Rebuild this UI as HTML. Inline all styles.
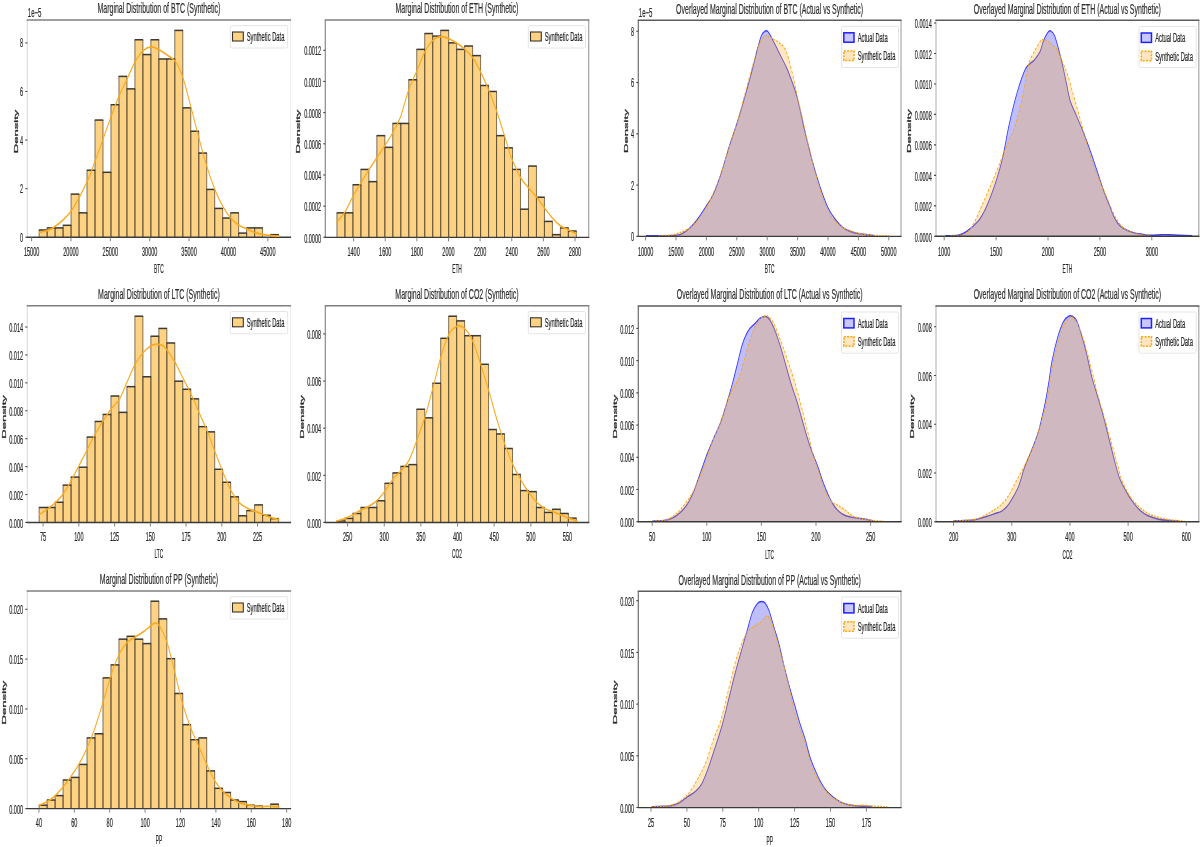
<!DOCTYPE html>
<html><head><meta charset="utf-8"><style>
html,body{margin:0;padding:0;background:#fff;}
svg{display:block;}
text{font-family:"Liberation Sans", sans-serif;}
svg{filter:blur(0.3px);}
text{stroke:#262626;stroke-width:0.2px;}
</style></head><body>
<svg width="1200" height="847" viewBox="0 0 1200 847">
<defs><filter id="tb" x="-5%" y="-5%" width="110%" height="110%"><feGaussianBlur stdDeviation="0.32"/></filter></defs>
<rect width="1200" height="847" fill="#ffffff"/>
<line x1="27.3" y1="20" x2="27.3" y2="237.3" stroke="#dedede" stroke-width="1.2"/>
<line x1="290.5" y1="20" x2="290.5" y2="237.3" stroke="#efefef" stroke-width="1.2"/>
<line x1="26.7" y1="20" x2="291.1" y2="20" stroke="#7f7f7f" stroke-width="1.5"/>
<rect x="39.15" y="229.98" width="7.98" height="7.32" fill="#fdd283"/>
<rect x="47.13" y="227.90" width="7.98" height="9.40" fill="#fdd283"/>
<rect x="55.11" y="227.90" width="7.98" height="9.40" fill="#fdd283"/>
<rect x="63.09" y="225.30" width="7.98" height="12.00" fill="#fdd283"/>
<rect x="71.07" y="194.12" width="7.98" height="43.18" fill="#fdd283"/>
<rect x="79.05" y="212.83" width="7.98" height="24.47" fill="#fdd283"/>
<rect x="87.03" y="170.21" width="7.98" height="67.09" fill="#fdd283"/>
<rect x="95.01" y="120.05" width="7.98" height="117.25" fill="#fdd283"/>
<rect x="102.99" y="172.29" width="7.98" height="65.01" fill="#fdd283"/>
<rect x="110.97" y="104.72" width="7.98" height="132.58" fill="#fdd283"/>
<rect x="118.95" y="76.39" width="7.98" height="160.91" fill="#fdd283"/>
<rect x="126.93" y="88.87" width="7.98" height="148.43" fill="#fdd283"/>
<rect x="134.91" y="39.75" width="7.98" height="197.55" fill="#fdd283"/>
<rect x="142.89" y="54.56" width="7.98" height="182.74" fill="#fdd283"/>
<rect x="150.87" y="39.75" width="7.98" height="197.55" fill="#fdd283"/>
<rect x="158.85" y="58.98" width="7.98" height="178.32" fill="#fdd283"/>
<rect x="166.83" y="58.98" width="7.98" height="178.32" fill="#fdd283"/>
<rect x="174.81" y="30.40" width="7.98" height="206.90" fill="#fdd283"/>
<rect x="182.79" y="107.84" width="7.98" height="129.46" fill="#fdd283"/>
<rect x="190.77" y="131.23" width="7.98" height="106.07" fill="#fdd283"/>
<rect x="198.75" y="153.06" width="7.98" height="84.24" fill="#fdd283"/>
<rect x="206.73" y="189.44" width="7.98" height="47.86" fill="#fdd283"/>
<rect x="214.71" y="208.41" width="7.98" height="28.89" fill="#fdd283"/>
<rect x="222.69" y="218.02" width="7.98" height="19.28" fill="#fdd283"/>
<rect x="230.67" y="212.83" width="7.98" height="24.47" fill="#fdd283"/>
<rect x="238.65" y="233.10" width="7.98" height="4.20" fill="#fdd283"/>
<rect x="246.63" y="227.90" width="7.98" height="9.40" fill="#fdd283"/>
<rect x="254.61" y="227.90" width="7.98" height="9.40" fill="#fdd283"/>
<rect x="270.57" y="234.66" width="7.98" height="2.64" fill="#fdd283"/>
<line x1="39.15" y1="229.98" x2="39.15" y2="237.30" stroke="#5a4a30" stroke-width="0.9" stroke-opacity="0.85"/>
<line x1="47.13" y1="229.98" x2="47.13" y2="237.30" stroke="#5a4a30" stroke-width="0.9" stroke-opacity="0.85"/>
<line x1="47.13" y1="227.90" x2="47.13" y2="237.30" stroke="#5a4a30" stroke-width="0.9" stroke-opacity="0.85"/>
<line x1="55.11" y1="227.90" x2="55.11" y2="237.30" stroke="#5a4a30" stroke-width="0.9" stroke-opacity="0.85"/>
<line x1="55.11" y1="227.90" x2="55.11" y2="237.30" stroke="#5a4a30" stroke-width="0.9" stroke-opacity="0.85"/>
<line x1="63.09" y1="227.90" x2="63.09" y2="237.30" stroke="#5a4a30" stroke-width="0.9" stroke-opacity="0.85"/>
<line x1="63.09" y1="225.30" x2="63.09" y2="237.30" stroke="#5a4a30" stroke-width="0.9" stroke-opacity="0.85"/>
<line x1="71.07" y1="225.30" x2="71.07" y2="237.30" stroke="#5a4a30" stroke-width="0.9" stroke-opacity="0.85"/>
<line x1="71.07" y1="194.12" x2="71.07" y2="237.30" stroke="#5a4a30" stroke-width="0.9" stroke-opacity="0.85"/>
<line x1="79.05" y1="194.12" x2="79.05" y2="237.30" stroke="#5a4a30" stroke-width="0.9" stroke-opacity="0.85"/>
<line x1="79.05" y1="212.83" x2="79.05" y2="237.30" stroke="#5a4a30" stroke-width="0.9" stroke-opacity="0.85"/>
<line x1="87.03" y1="212.83" x2="87.03" y2="237.30" stroke="#5a4a30" stroke-width="0.9" stroke-opacity="0.85"/>
<line x1="87.03" y1="170.21" x2="87.03" y2="237.30" stroke="#5a4a30" stroke-width="0.9" stroke-opacity="0.85"/>
<line x1="95.01" y1="170.21" x2="95.01" y2="237.30" stroke="#5a4a30" stroke-width="0.9" stroke-opacity="0.85"/>
<line x1="95.01" y1="120.05" x2="95.01" y2="237.30" stroke="#5a4a30" stroke-width="0.9" stroke-opacity="0.85"/>
<line x1="102.99" y1="120.05" x2="102.99" y2="237.30" stroke="#5a4a30" stroke-width="0.9" stroke-opacity="0.85"/>
<line x1="102.99" y1="172.29" x2="102.99" y2="237.30" stroke="#5a4a30" stroke-width="0.9" stroke-opacity="0.85"/>
<line x1="110.97" y1="172.29" x2="110.97" y2="237.30" stroke="#5a4a30" stroke-width="0.9" stroke-opacity="0.85"/>
<line x1="110.97" y1="104.72" x2="110.97" y2="237.30" stroke="#5a4a30" stroke-width="0.9" stroke-opacity="0.85"/>
<line x1="118.95" y1="104.72" x2="118.95" y2="237.30" stroke="#5a4a30" stroke-width="0.9" stroke-opacity="0.85"/>
<line x1="118.95" y1="76.39" x2="118.95" y2="237.30" stroke="#5a4a30" stroke-width="0.9" stroke-opacity="0.85"/>
<line x1="126.93" y1="76.39" x2="126.93" y2="237.30" stroke="#5a4a30" stroke-width="0.9" stroke-opacity="0.85"/>
<line x1="126.93" y1="88.87" x2="126.93" y2="237.30" stroke="#5a4a30" stroke-width="0.9" stroke-opacity="0.85"/>
<line x1="134.91" y1="88.87" x2="134.91" y2="237.30" stroke="#5a4a30" stroke-width="0.9" stroke-opacity="0.85"/>
<line x1="134.91" y1="39.75" x2="134.91" y2="237.30" stroke="#5a4a30" stroke-width="0.9" stroke-opacity="0.85"/>
<line x1="142.89" y1="39.75" x2="142.89" y2="237.30" stroke="#5a4a30" stroke-width="0.9" stroke-opacity="0.85"/>
<line x1="142.89" y1="54.56" x2="142.89" y2="237.30" stroke="#5a4a30" stroke-width="0.9" stroke-opacity="0.85"/>
<line x1="150.87" y1="54.56" x2="150.87" y2="237.30" stroke="#5a4a30" stroke-width="0.9" stroke-opacity="0.85"/>
<line x1="150.87" y1="39.75" x2="150.87" y2="237.30" stroke="#5a4a30" stroke-width="0.9" stroke-opacity="0.85"/>
<line x1="158.85" y1="39.75" x2="158.85" y2="237.30" stroke="#5a4a30" stroke-width="0.9" stroke-opacity="0.85"/>
<line x1="158.85" y1="58.98" x2="158.85" y2="237.30" stroke="#5a4a30" stroke-width="0.9" stroke-opacity="0.85"/>
<line x1="166.83" y1="58.98" x2="166.83" y2="237.30" stroke="#5a4a30" stroke-width="0.9" stroke-opacity="0.85"/>
<line x1="166.83" y1="58.98" x2="166.83" y2="237.30" stroke="#5a4a30" stroke-width="0.9" stroke-opacity="0.85"/>
<line x1="174.81" y1="58.98" x2="174.81" y2="237.30" stroke="#5a4a30" stroke-width="0.9" stroke-opacity="0.85"/>
<line x1="174.81" y1="30.40" x2="174.81" y2="237.30" stroke="#5a4a30" stroke-width="0.9" stroke-opacity="0.85"/>
<line x1="182.79" y1="30.40" x2="182.79" y2="237.30" stroke="#5a4a30" stroke-width="0.9" stroke-opacity="0.85"/>
<line x1="182.79" y1="107.84" x2="182.79" y2="237.30" stroke="#5a4a30" stroke-width="0.9" stroke-opacity="0.85"/>
<line x1="190.77" y1="107.84" x2="190.77" y2="237.30" stroke="#5a4a30" stroke-width="0.9" stroke-opacity="0.85"/>
<line x1="190.77" y1="131.23" x2="190.77" y2="237.30" stroke="#5a4a30" stroke-width="0.9" stroke-opacity="0.85"/>
<line x1="198.75" y1="131.23" x2="198.75" y2="237.30" stroke="#5a4a30" stroke-width="0.9" stroke-opacity="0.85"/>
<line x1="198.75" y1="153.06" x2="198.75" y2="237.30" stroke="#5a4a30" stroke-width="0.9" stroke-opacity="0.85"/>
<line x1="206.73" y1="153.06" x2="206.73" y2="237.30" stroke="#5a4a30" stroke-width="0.9" stroke-opacity="0.85"/>
<line x1="206.73" y1="189.44" x2="206.73" y2="237.30" stroke="#5a4a30" stroke-width="0.9" stroke-opacity="0.85"/>
<line x1="214.71" y1="189.44" x2="214.71" y2="237.30" stroke="#5a4a30" stroke-width="0.9" stroke-opacity="0.85"/>
<line x1="214.71" y1="208.41" x2="214.71" y2="237.30" stroke="#5a4a30" stroke-width="0.9" stroke-opacity="0.85"/>
<line x1="222.69" y1="208.41" x2="222.69" y2="237.30" stroke="#5a4a30" stroke-width="0.9" stroke-opacity="0.85"/>
<line x1="222.69" y1="218.02" x2="222.69" y2="237.30" stroke="#5a4a30" stroke-width="0.9" stroke-opacity="0.85"/>
<line x1="230.67" y1="218.02" x2="230.67" y2="237.30" stroke="#5a4a30" stroke-width="0.9" stroke-opacity="0.85"/>
<line x1="230.67" y1="212.83" x2="230.67" y2="237.30" stroke="#5a4a30" stroke-width="0.9" stroke-opacity="0.85"/>
<line x1="238.65" y1="212.83" x2="238.65" y2="237.30" stroke="#5a4a30" stroke-width="0.9" stroke-opacity="0.85"/>
<line x1="238.65" y1="233.10" x2="238.65" y2="237.30" stroke="#5a4a30" stroke-width="0.9" stroke-opacity="0.85"/>
<line x1="246.63" y1="233.10" x2="246.63" y2="237.30" stroke="#5a4a30" stroke-width="0.9" stroke-opacity="0.85"/>
<line x1="246.63" y1="227.90" x2="246.63" y2="237.30" stroke="#5a4a30" stroke-width="0.9" stroke-opacity="0.85"/>
<line x1="254.61" y1="227.90" x2="254.61" y2="237.30" stroke="#5a4a30" stroke-width="0.9" stroke-opacity="0.85"/>
<line x1="254.61" y1="227.90" x2="254.61" y2="237.30" stroke="#5a4a30" stroke-width="0.9" stroke-opacity="0.85"/>
<line x1="262.59" y1="227.90" x2="262.59" y2="237.30" stroke="#5a4a30" stroke-width="0.9" stroke-opacity="0.85"/>
<line x1="270.57" y1="234.66" x2="270.57" y2="237.30" stroke="#5a4a30" stroke-width="0.9" stroke-opacity="0.85"/>
<line x1="278.55" y1="234.66" x2="278.55" y2="237.30" stroke="#5a4a30" stroke-width="0.9" stroke-opacity="0.85"/>
<line x1="38.85" y1="229.98" x2="47.43" y2="229.98" stroke="#3c3833" stroke-width="1.5"/>
<line x1="46.83" y1="227.90" x2="55.41" y2="227.90" stroke="#3c3833" stroke-width="1.5"/>
<line x1="54.81" y1="227.90" x2="63.39" y2="227.90" stroke="#3c3833" stroke-width="1.5"/>
<line x1="62.79" y1="225.30" x2="71.37" y2="225.30" stroke="#3c3833" stroke-width="1.5"/>
<line x1="70.77" y1="194.12" x2="79.35" y2="194.12" stroke="#3c3833" stroke-width="1.5"/>
<line x1="78.75" y1="212.83" x2="87.33" y2="212.83" stroke="#3c3833" stroke-width="1.5"/>
<line x1="86.73" y1="170.21" x2="95.31" y2="170.21" stroke="#3c3833" stroke-width="1.5"/>
<line x1="94.71" y1="120.05" x2="103.29" y2="120.05" stroke="#3c3833" stroke-width="1.5"/>
<line x1="102.69" y1="172.29" x2="111.27" y2="172.29" stroke="#3c3833" stroke-width="1.5"/>
<line x1="110.67" y1="104.72" x2="119.25" y2="104.72" stroke="#3c3833" stroke-width="1.5"/>
<line x1="118.65" y1="76.39" x2="127.23" y2="76.39" stroke="#3c3833" stroke-width="1.5"/>
<line x1="126.63" y1="88.87" x2="135.21" y2="88.87" stroke="#3c3833" stroke-width="1.5"/>
<line x1="134.61" y1="39.75" x2="143.19" y2="39.75" stroke="#3c3833" stroke-width="1.5"/>
<line x1="142.59" y1="54.56" x2="151.17" y2="54.56" stroke="#3c3833" stroke-width="1.5"/>
<line x1="150.57" y1="39.75" x2="159.15" y2="39.75" stroke="#3c3833" stroke-width="1.5"/>
<line x1="158.55" y1="58.98" x2="167.13" y2="58.98" stroke="#3c3833" stroke-width="1.5"/>
<line x1="166.53" y1="58.98" x2="175.11" y2="58.98" stroke="#3c3833" stroke-width="1.5"/>
<line x1="174.51" y1="30.40" x2="183.09" y2="30.40" stroke="#3c3833" stroke-width="1.5"/>
<line x1="182.49" y1="107.84" x2="191.07" y2="107.84" stroke="#3c3833" stroke-width="1.5"/>
<line x1="190.47" y1="131.23" x2="199.05" y2="131.23" stroke="#3c3833" stroke-width="1.5"/>
<line x1="198.45" y1="153.06" x2="207.03" y2="153.06" stroke="#3c3833" stroke-width="1.5"/>
<line x1="206.43" y1="189.44" x2="215.01" y2="189.44" stroke="#3c3833" stroke-width="1.5"/>
<line x1="214.41" y1="208.41" x2="222.99" y2="208.41" stroke="#3c3833" stroke-width="1.5"/>
<line x1="222.39" y1="218.02" x2="230.97" y2="218.02" stroke="#3c3833" stroke-width="1.5"/>
<line x1="230.37" y1="212.83" x2="238.95" y2="212.83" stroke="#3c3833" stroke-width="1.5"/>
<line x1="238.35" y1="233.10" x2="246.93" y2="233.10" stroke="#3c3833" stroke-width="1.5"/>
<line x1="246.33" y1="227.90" x2="254.91" y2="227.90" stroke="#3c3833" stroke-width="1.5"/>
<line x1="254.31" y1="227.90" x2="262.89" y2="227.90" stroke="#3c3833" stroke-width="1.5"/>
<line x1="270.27" y1="234.66" x2="278.85" y2="234.66" stroke="#3c3833" stroke-width="1.5"/>
<line x1="26.7" y1="237.3" x2="291.1" y2="237.3" stroke="#3a3a3a" stroke-width="1.4"/>
<g transform="translate(600.0,0) scale(0.55,1) translate(-600.0,0)"><path d="M-419.61,232.58 C-415.44,231.80 -404.25,231.50 -394.57,227.90 C-384.88,224.31 -371.89,218.80 -361.49,211.01 C-351.10,203.21 -339.52,189.57 -332.20,181.12 C-324.87,172.68 -322.43,167.48 -317.55,160.33 C-312.67,153.19 -307.71,145.61 -302.90,138.24 C-298.10,130.88 -293.53,123.30 -288.73,116.15 C-283.92,109.01 -278.96,101.64 -274.08,95.36 C-269.20,89.08 -264.24,84.10 -259.43,78.47 C-254.63,72.84 -250.06,66.21 -245.26,61.58 C-240.45,56.95 -235.49,53.13 -230.61,50.67 C-225.73,48.20 -220.85,46.90 -215.96,46.77 C-211.08,46.64 -206.20,48.50 -201.32,49.89 C-196.43,51.27 -191.55,53.13 -186.67,55.08 C-181.79,57.03 -176.82,57.68 -172.02,61.58 C-167.22,65.48 -162.65,70.68 -157.85,78.47 C-153.04,86.27 -148.08,98.18 -143.20,108.36 C-138.32,118.54 -133.43,129.58 -128.55,139.54 C-123.67,149.50 -118.71,159.68 -113.90,168.13 C-109.10,176.57 -104.53,183.72 -99.73,190.22 C-94.92,196.72 -89.96,202.35 -85.08,207.11 C-80.20,211.87 -75.32,215.77 -70.43,218.80 C-65.55,221.84 -60.59,223.57 -55.79,225.30 C-50.98,227.03 -46.41,227.99 -41.61,229.20 C-36.81,230.41 -31.85,231.67 -26.96,232.58 C-22.08,233.49 -17.20,234.14 -12.32,234.66 C-7.43,235.18 -2.47,235.44 2.33,235.70 C7.14,235.96 14.14,236.13 16.51,236.22" fill="none" stroke="#fbaa1c" stroke-width="1.75" stroke-linejoin="round" stroke-linecap="round"/></g>
<rect x="230.3" y="25.7" width="57.39999999999998" height="22.3" rx="1.5" fill="#ffffff" fill-opacity="0.8" stroke="#e2e2e2" stroke-width="0.9"/>
<rect x="232.5" y="32.0" width="10.8" height="9" fill="#fdd283" stroke="#3a3328" stroke-width="1.1"/>
<line x1="25.3" y1="237.25" x2="27.3" y2="237.25" stroke="#444" stroke-width="1.1"/>
<line x1="25.3" y1="188.66" x2="27.3" y2="188.66" stroke="#444" stroke-width="1.1"/>
<line x1="25.3" y1="140.07" x2="27.3" y2="140.07" stroke="#444" stroke-width="1.1"/>
<line x1="25.3" y1="91.48" x2="27.3" y2="91.48" stroke="#444" stroke-width="1.1"/>
<line x1="25.3" y1="42.89" x2="27.3" y2="42.89" stroke="#444" stroke-width="1.1"/>
<line x1="31.60" y1="237.3" x2="31.60" y2="241.3" stroke="#777" stroke-width="0.9"/>
<line x1="70.97" y1="237.3" x2="70.97" y2="241.3" stroke="#777" stroke-width="0.9"/>
<line x1="110.34" y1="237.3" x2="110.34" y2="241.3" stroke="#777" stroke-width="0.9"/>
<line x1="149.71" y1="237.3" x2="149.71" y2="241.3" stroke="#777" stroke-width="0.9"/>
<line x1="189.08" y1="237.3" x2="189.08" y2="241.3" stroke="#777" stroke-width="0.9"/>
<line x1="228.45" y1="237.3" x2="228.45" y2="241.3" stroke="#777" stroke-width="0.9"/>
<line x1="267.82" y1="237.3" x2="267.82" y2="241.3" stroke="#777" stroke-width="0.9"/>
<line x1="325.3" y1="20" x2="325.3" y2="237.4" stroke="#8a8a8a" stroke-width="1.2"/>
<line x1="588.7" y1="20" x2="588.7" y2="237.4" stroke="#a0a0a0" stroke-width="1.2"/>
<line x1="324.7" y1="20" x2="589.3000000000001" y2="20" stroke="#7f7f7f" stroke-width="1.5"/>
<rect x="336.95" y="212.83" width="7.98" height="24.57" fill="#fdd283"/>
<rect x="344.93" y="212.83" width="7.98" height="24.57" fill="#fdd283"/>
<rect x="352.91" y="184.76" width="7.98" height="52.64" fill="#fdd283"/>
<rect x="360.89" y="169.43" width="7.98" height="67.97" fill="#fdd283"/>
<rect x="368.87" y="181.64" width="7.98" height="55.76" fill="#fdd283"/>
<rect x="376.85" y="135.64" width="7.98" height="101.76" fill="#fdd283"/>
<rect x="384.83" y="147.34" width="7.98" height="90.06" fill="#fdd283"/>
<rect x="392.81" y="123.43" width="7.98" height="113.97" fill="#fdd283"/>
<rect x="400.79" y="123.43" width="7.98" height="113.97" fill="#fdd283"/>
<rect x="408.77" y="79.77" width="7.98" height="157.63" fill="#fdd283"/>
<rect x="416.75" y="49.37" width="7.98" height="188.03" fill="#fdd283"/>
<rect x="424.73" y="33.51" width="7.98" height="203.89" fill="#fdd283"/>
<rect x="432.71" y="36.11" width="7.98" height="201.29" fill="#fdd283"/>
<rect x="440.69" y="30.40" width="7.98" height="207.00" fill="#fdd283"/>
<rect x="448.67" y="42.87" width="7.98" height="194.53" fill="#fdd283"/>
<rect x="456.65" y="49.37" width="7.98" height="188.03" fill="#fdd283"/>
<rect x="464.63" y="45.99" width="7.98" height="191.41" fill="#fdd283"/>
<rect x="472.61" y="55.60" width="7.98" height="181.80" fill="#fdd283"/>
<rect x="480.59" y="85.49" width="7.98" height="151.91" fill="#fdd283"/>
<rect x="488.57" y="91.47" width="7.98" height="145.93" fill="#fdd283"/>
<rect x="496.55" y="135.64" width="7.98" height="101.76" fill="#fdd283"/>
<rect x="504.53" y="147.86" width="7.98" height="89.54" fill="#fdd283"/>
<rect x="512.51" y="169.43" width="7.98" height="67.97" fill="#fdd283"/>
<rect x="520.49" y="209.19" width="7.98" height="28.21" fill="#fdd283"/>
<rect x="528.47" y="166.05" width="7.98" height="71.35" fill="#fdd283"/>
<rect x="536.45" y="197.23" width="7.98" height="40.17" fill="#fdd283"/>
<rect x="544.43" y="221.40" width="7.98" height="16.00" fill="#fdd283"/>
<rect x="552.41" y="234.66" width="7.98" height="2.74" fill="#fdd283"/>
<rect x="560.39" y="227.90" width="7.98" height="9.50" fill="#fdd283"/>
<rect x="568.37" y="231.02" width="7.98" height="6.38" fill="#fdd283"/>
<line x1="336.95" y1="212.83" x2="336.95" y2="237.40" stroke="#5a4a30" stroke-width="0.9" stroke-opacity="0.85"/>
<line x1="344.93" y1="212.83" x2="344.93" y2="237.40" stroke="#5a4a30" stroke-width="0.9" stroke-opacity="0.85"/>
<line x1="344.93" y1="212.83" x2="344.93" y2="237.40" stroke="#5a4a30" stroke-width="0.9" stroke-opacity="0.85"/>
<line x1="352.91" y1="212.83" x2="352.91" y2="237.40" stroke="#5a4a30" stroke-width="0.9" stroke-opacity="0.85"/>
<line x1="352.91" y1="184.76" x2="352.91" y2="237.40" stroke="#5a4a30" stroke-width="0.9" stroke-opacity="0.85"/>
<line x1="360.89" y1="184.76" x2="360.89" y2="237.40" stroke="#5a4a30" stroke-width="0.9" stroke-opacity="0.85"/>
<line x1="360.89" y1="169.43" x2="360.89" y2="237.40" stroke="#5a4a30" stroke-width="0.9" stroke-opacity="0.85"/>
<line x1="368.87" y1="169.43" x2="368.87" y2="237.40" stroke="#5a4a30" stroke-width="0.9" stroke-opacity="0.85"/>
<line x1="368.87" y1="181.64" x2="368.87" y2="237.40" stroke="#5a4a30" stroke-width="0.9" stroke-opacity="0.85"/>
<line x1="376.85" y1="181.64" x2="376.85" y2="237.40" stroke="#5a4a30" stroke-width="0.9" stroke-opacity="0.85"/>
<line x1="376.85" y1="135.64" x2="376.85" y2="237.40" stroke="#5a4a30" stroke-width="0.9" stroke-opacity="0.85"/>
<line x1="384.83" y1="135.64" x2="384.83" y2="237.40" stroke="#5a4a30" stroke-width="0.9" stroke-opacity="0.85"/>
<line x1="384.83" y1="147.34" x2="384.83" y2="237.40" stroke="#5a4a30" stroke-width="0.9" stroke-opacity="0.85"/>
<line x1="392.81" y1="147.34" x2="392.81" y2="237.40" stroke="#5a4a30" stroke-width="0.9" stroke-opacity="0.85"/>
<line x1="392.81" y1="123.43" x2="392.81" y2="237.40" stroke="#5a4a30" stroke-width="0.9" stroke-opacity="0.85"/>
<line x1="400.79" y1="123.43" x2="400.79" y2="237.40" stroke="#5a4a30" stroke-width="0.9" stroke-opacity="0.85"/>
<line x1="400.79" y1="123.43" x2="400.79" y2="237.40" stroke="#5a4a30" stroke-width="0.9" stroke-opacity="0.85"/>
<line x1="408.77" y1="123.43" x2="408.77" y2="237.40" stroke="#5a4a30" stroke-width="0.9" stroke-opacity="0.85"/>
<line x1="408.77" y1="79.77" x2="408.77" y2="237.40" stroke="#5a4a30" stroke-width="0.9" stroke-opacity="0.85"/>
<line x1="416.75" y1="79.77" x2="416.75" y2="237.40" stroke="#5a4a30" stroke-width="0.9" stroke-opacity="0.85"/>
<line x1="416.75" y1="49.37" x2="416.75" y2="237.40" stroke="#5a4a30" stroke-width="0.9" stroke-opacity="0.85"/>
<line x1="424.73" y1="49.37" x2="424.73" y2="237.40" stroke="#5a4a30" stroke-width="0.9" stroke-opacity="0.85"/>
<line x1="424.73" y1="33.51" x2="424.73" y2="237.40" stroke="#5a4a30" stroke-width="0.9" stroke-opacity="0.85"/>
<line x1="432.71" y1="33.51" x2="432.71" y2="237.40" stroke="#5a4a30" stroke-width="0.9" stroke-opacity="0.85"/>
<line x1="432.71" y1="36.11" x2="432.71" y2="237.40" stroke="#5a4a30" stroke-width="0.9" stroke-opacity="0.85"/>
<line x1="440.69" y1="36.11" x2="440.69" y2="237.40" stroke="#5a4a30" stroke-width="0.9" stroke-opacity="0.85"/>
<line x1="440.69" y1="30.40" x2="440.69" y2="237.40" stroke="#5a4a30" stroke-width="0.9" stroke-opacity="0.85"/>
<line x1="448.67" y1="30.40" x2="448.67" y2="237.40" stroke="#5a4a30" stroke-width="0.9" stroke-opacity="0.85"/>
<line x1="448.67" y1="42.87" x2="448.67" y2="237.40" stroke="#5a4a30" stroke-width="0.9" stroke-opacity="0.85"/>
<line x1="456.65" y1="42.87" x2="456.65" y2="237.40" stroke="#5a4a30" stroke-width="0.9" stroke-opacity="0.85"/>
<line x1="456.65" y1="49.37" x2="456.65" y2="237.40" stroke="#5a4a30" stroke-width="0.9" stroke-opacity="0.85"/>
<line x1="464.63" y1="49.37" x2="464.63" y2="237.40" stroke="#5a4a30" stroke-width="0.9" stroke-opacity="0.85"/>
<line x1="464.63" y1="45.99" x2="464.63" y2="237.40" stroke="#5a4a30" stroke-width="0.9" stroke-opacity="0.85"/>
<line x1="472.61" y1="45.99" x2="472.61" y2="237.40" stroke="#5a4a30" stroke-width="0.9" stroke-opacity="0.85"/>
<line x1="472.61" y1="55.60" x2="472.61" y2="237.40" stroke="#5a4a30" stroke-width="0.9" stroke-opacity="0.85"/>
<line x1="480.59" y1="55.60" x2="480.59" y2="237.40" stroke="#5a4a30" stroke-width="0.9" stroke-opacity="0.85"/>
<line x1="480.59" y1="85.49" x2="480.59" y2="237.40" stroke="#5a4a30" stroke-width="0.9" stroke-opacity="0.85"/>
<line x1="488.57" y1="85.49" x2="488.57" y2="237.40" stroke="#5a4a30" stroke-width="0.9" stroke-opacity="0.85"/>
<line x1="488.57" y1="91.47" x2="488.57" y2="237.40" stroke="#5a4a30" stroke-width="0.9" stroke-opacity="0.85"/>
<line x1="496.55" y1="91.47" x2="496.55" y2="237.40" stroke="#5a4a30" stroke-width="0.9" stroke-opacity="0.85"/>
<line x1="496.55" y1="135.64" x2="496.55" y2="237.40" stroke="#5a4a30" stroke-width="0.9" stroke-opacity="0.85"/>
<line x1="504.53" y1="135.64" x2="504.53" y2="237.40" stroke="#5a4a30" stroke-width="0.9" stroke-opacity="0.85"/>
<line x1="504.53" y1="147.86" x2="504.53" y2="237.40" stroke="#5a4a30" stroke-width="0.9" stroke-opacity="0.85"/>
<line x1="512.51" y1="147.86" x2="512.51" y2="237.40" stroke="#5a4a30" stroke-width="0.9" stroke-opacity="0.85"/>
<line x1="512.51" y1="169.43" x2="512.51" y2="237.40" stroke="#5a4a30" stroke-width="0.9" stroke-opacity="0.85"/>
<line x1="520.49" y1="169.43" x2="520.49" y2="237.40" stroke="#5a4a30" stroke-width="0.9" stroke-opacity="0.85"/>
<line x1="520.49" y1="209.19" x2="520.49" y2="237.40" stroke="#5a4a30" stroke-width="0.9" stroke-opacity="0.85"/>
<line x1="528.47" y1="209.19" x2="528.47" y2="237.40" stroke="#5a4a30" stroke-width="0.9" stroke-opacity="0.85"/>
<line x1="528.47" y1="166.05" x2="528.47" y2="237.40" stroke="#5a4a30" stroke-width="0.9" stroke-opacity="0.85"/>
<line x1="536.45" y1="166.05" x2="536.45" y2="237.40" stroke="#5a4a30" stroke-width="0.9" stroke-opacity="0.85"/>
<line x1="536.45" y1="197.23" x2="536.45" y2="237.40" stroke="#5a4a30" stroke-width="0.9" stroke-opacity="0.85"/>
<line x1="544.43" y1="197.23" x2="544.43" y2="237.40" stroke="#5a4a30" stroke-width="0.9" stroke-opacity="0.85"/>
<line x1="544.43" y1="221.40" x2="544.43" y2="237.40" stroke="#5a4a30" stroke-width="0.9" stroke-opacity="0.85"/>
<line x1="552.41" y1="221.40" x2="552.41" y2="237.40" stroke="#5a4a30" stroke-width="0.9" stroke-opacity="0.85"/>
<line x1="552.41" y1="234.66" x2="552.41" y2="237.40" stroke="#5a4a30" stroke-width="0.9" stroke-opacity="0.85"/>
<line x1="560.39" y1="234.66" x2="560.39" y2="237.40" stroke="#5a4a30" stroke-width="0.9" stroke-opacity="0.85"/>
<line x1="560.39" y1="227.90" x2="560.39" y2="237.40" stroke="#5a4a30" stroke-width="0.9" stroke-opacity="0.85"/>
<line x1="568.37" y1="227.90" x2="568.37" y2="237.40" stroke="#5a4a30" stroke-width="0.9" stroke-opacity="0.85"/>
<line x1="568.37" y1="231.02" x2="568.37" y2="237.40" stroke="#5a4a30" stroke-width="0.9" stroke-opacity="0.85"/>
<line x1="576.35" y1="231.02" x2="576.35" y2="237.40" stroke="#5a4a30" stroke-width="0.9" stroke-opacity="0.85"/>
<line x1="336.65" y1="212.83" x2="345.23" y2="212.83" stroke="#3c3833" stroke-width="1.5"/>
<line x1="344.63" y1="212.83" x2="353.21" y2="212.83" stroke="#3c3833" stroke-width="1.5"/>
<line x1="352.61" y1="184.76" x2="361.19" y2="184.76" stroke="#3c3833" stroke-width="1.5"/>
<line x1="360.59" y1="169.43" x2="369.17" y2="169.43" stroke="#3c3833" stroke-width="1.5"/>
<line x1="368.57" y1="181.64" x2="377.15" y2="181.64" stroke="#3c3833" stroke-width="1.5"/>
<line x1="376.55" y1="135.64" x2="385.13" y2="135.64" stroke="#3c3833" stroke-width="1.5"/>
<line x1="384.53" y1="147.34" x2="393.11" y2="147.34" stroke="#3c3833" stroke-width="1.5"/>
<line x1="392.51" y1="123.43" x2="401.09" y2="123.43" stroke="#3c3833" stroke-width="1.5"/>
<line x1="400.49" y1="123.43" x2="409.07" y2="123.43" stroke="#3c3833" stroke-width="1.5"/>
<line x1="408.47" y1="79.77" x2="417.05" y2="79.77" stroke="#3c3833" stroke-width="1.5"/>
<line x1="416.45" y1="49.37" x2="425.03" y2="49.37" stroke="#3c3833" stroke-width="1.5"/>
<line x1="424.43" y1="33.51" x2="433.01" y2="33.51" stroke="#3c3833" stroke-width="1.5"/>
<line x1="432.41" y1="36.11" x2="440.99" y2="36.11" stroke="#3c3833" stroke-width="1.5"/>
<line x1="440.39" y1="30.40" x2="448.97" y2="30.40" stroke="#3c3833" stroke-width="1.5"/>
<line x1="448.37" y1="42.87" x2="456.95" y2="42.87" stroke="#3c3833" stroke-width="1.5"/>
<line x1="456.35" y1="49.37" x2="464.93" y2="49.37" stroke="#3c3833" stroke-width="1.5"/>
<line x1="464.33" y1="45.99" x2="472.91" y2="45.99" stroke="#3c3833" stroke-width="1.5"/>
<line x1="472.31" y1="55.60" x2="480.89" y2="55.60" stroke="#3c3833" stroke-width="1.5"/>
<line x1="480.29" y1="85.49" x2="488.87" y2="85.49" stroke="#3c3833" stroke-width="1.5"/>
<line x1="488.27" y1="91.47" x2="496.85" y2="91.47" stroke="#3c3833" stroke-width="1.5"/>
<line x1="496.25" y1="135.64" x2="504.83" y2="135.64" stroke="#3c3833" stroke-width="1.5"/>
<line x1="504.23" y1="147.86" x2="512.81" y2="147.86" stroke="#3c3833" stroke-width="1.5"/>
<line x1="512.21" y1="169.43" x2="520.79" y2="169.43" stroke="#3c3833" stroke-width="1.5"/>
<line x1="520.19" y1="209.19" x2="528.77" y2="209.19" stroke="#3c3833" stroke-width="1.5"/>
<line x1="528.17" y1="166.05" x2="536.75" y2="166.05" stroke="#3c3833" stroke-width="1.5"/>
<line x1="536.15" y1="197.23" x2="544.73" y2="197.23" stroke="#3c3833" stroke-width="1.5"/>
<line x1="544.13" y1="221.40" x2="552.71" y2="221.40" stroke="#3c3833" stroke-width="1.5"/>
<line x1="552.11" y1="234.66" x2="560.69" y2="234.66" stroke="#3c3833" stroke-width="1.5"/>
<line x1="560.09" y1="227.90" x2="568.67" y2="227.90" stroke="#3c3833" stroke-width="1.5"/>
<line x1="568.07" y1="231.02" x2="576.65" y2="231.02" stroke="#3c3833" stroke-width="1.5"/>
<line x1="324.7" y1="237.4" x2="589.3000000000001" y2="237.4" stroke="#3a3a3a" stroke-width="1.4"/>
<g transform="translate(600.0,0) scale(0.55,1) translate(-600.0,0)"><path d="M121.26,222.18 C123.70,220.54 131.03,216.55 135.91,212.31 C140.79,208.06 145.68,201.61 150.56,196.72 C155.44,191.82 160.32,187.45 165.21,182.94 C170.09,178.44 174.97,173.93 179.85,169.69 C184.74,165.44 189.62,161.55 194.50,157.47 C199.38,153.40 204.27,149.50 209.15,145.26 C214.03,141.02 218.99,136.90 223.80,132.01 C228.60,127.11 233.32,122.78 237.97,115.89 C242.62,109.01 246.79,98.27 251.67,90.69 C256.56,83.11 262.07,77.13 267.27,70.42 C272.46,63.70 277.74,55.60 282.86,50.41 C287.98,45.21 292.86,41.53 297.98,39.23 C303.10,36.94 307.51,36.29 313.57,36.63 C319.63,36.98 327.90,39.36 334.36,41.31 C340.82,43.26 346.33,45.38 352.32,48.33 C358.30,51.27 363.81,53.44 370.27,58.98 C376.73,64.53 384.21,73.10 391.06,81.59 C397.91,90.08 405.00,100.00 411.38,109.92 C417.76,119.84 425.00,133.52 429.33,141.10 C433.66,148.68 434.37,150.89 437.37,155.40 C440.36,159.90 444.06,164.23 447.29,168.13 C450.52,172.03 452.80,175.41 456.74,178.78 C460.68,182.16 466.11,185.24 470.91,188.40 C475.72,191.56 480.68,194.38 485.56,197.75 C490.44,201.13 495.33,205.12 500.21,208.67 C505.09,212.22 510.21,216.21 514.86,219.06 C519.50,221.92 523.60,224.05 528.09,225.82 C532.57,227.60 536.98,228.42 541.79,229.72 C546.59,231.02 554.39,232.97 556.91,233.62" fill="none" stroke="#fbaa1c" stroke-width="1.75" stroke-linejoin="round" stroke-linecap="round"/></g>
<rect x="528.3" y="25.7" width="57.200000000000045" height="22.3" rx="1.5" fill="#ffffff" fill-opacity="0.8" stroke="#e2e2e2" stroke-width="0.9"/>
<rect x="530.5" y="32.0" width="10.8" height="9" fill="#fdd283" stroke="#3a3328" stroke-width="1.1"/>
<line x1="323.3" y1="237.30" x2="325.3" y2="237.30" stroke="#444" stroke-width="1.1"/>
<line x1="323.3" y1="206.13" x2="325.3" y2="206.13" stroke="#444" stroke-width="1.1"/>
<line x1="323.3" y1="174.96" x2="325.3" y2="174.96" stroke="#444" stroke-width="1.1"/>
<line x1="323.3" y1="143.79" x2="325.3" y2="143.79" stroke="#444" stroke-width="1.1"/>
<line x1="323.3" y1="112.62" x2="325.3" y2="112.62" stroke="#444" stroke-width="1.1"/>
<line x1="323.3" y1="81.45" x2="325.3" y2="81.45" stroke="#444" stroke-width="1.1"/>
<line x1="323.3" y1="50.28" x2="325.3" y2="50.28" stroke="#444" stroke-width="1.1"/>
<line x1="353.60" y1="237.4" x2="353.60" y2="241.4" stroke="#777" stroke-width="0.9"/>
<line x1="385.23" y1="237.4" x2="385.23" y2="241.4" stroke="#777" stroke-width="0.9"/>
<line x1="416.86" y1="237.4" x2="416.86" y2="241.4" stroke="#777" stroke-width="0.9"/>
<line x1="448.49" y1="237.4" x2="448.49" y2="241.4" stroke="#777" stroke-width="0.9"/>
<line x1="480.12" y1="237.4" x2="480.12" y2="241.4" stroke="#777" stroke-width="0.9"/>
<line x1="511.75" y1="237.4" x2="511.75" y2="241.4" stroke="#777" stroke-width="0.9"/>
<line x1="543.38" y1="237.4" x2="543.38" y2="241.4" stroke="#777" stroke-width="0.9"/>
<line x1="575.01" y1="237.4" x2="575.01" y2="241.4" stroke="#777" stroke-width="0.9"/>
<line x1="27.3" y1="305.8" x2="27.3" y2="522.5" stroke="#dedede" stroke-width="1.2"/>
<line x1="290.5" y1="305.8" x2="290.5" y2="522.5" stroke="#efefef" stroke-width="1.2"/>
<line x1="26.7" y1="305.8" x2="291.1" y2="305.8" stroke="#7f7f7f" stroke-width="1.5"/>
<rect x="39.15" y="507.48" width="7.98" height="15.02" fill="#fdd283"/>
<rect x="47.13" y="507.48" width="7.98" height="15.02" fill="#fdd283"/>
<rect x="55.11" y="502.28" width="7.98" height="20.22" fill="#fdd283"/>
<rect x="63.09" y="485.13" width="7.98" height="37.37" fill="#fdd283"/>
<rect x="71.07" y="477.08" width="7.98" height="45.42" fill="#fdd283"/>
<rect x="79.05" y="467.20" width="7.98" height="55.30" fill="#fdd283"/>
<rect x="87.03" y="437.06" width="7.98" height="85.44" fill="#fdd283"/>
<rect x="95.01" y="421.46" width="7.98" height="101.04" fill="#fdd283"/>
<rect x="102.99" y="414.45" width="7.98" height="108.05" fill="#fdd283"/>
<rect x="110.97" y="396.00" width="7.98" height="126.50" fill="#fdd283"/>
<rect x="118.95" y="412.37" width="7.98" height="110.13" fill="#fdd283"/>
<rect x="126.93" y="386.64" width="7.98" height="135.86" fill="#fdd283"/>
<rect x="134.91" y="316.21" width="7.98" height="206.29" fill="#fdd283"/>
<rect x="142.89" y="376.77" width="7.98" height="145.73" fill="#fdd283"/>
<rect x="150.87" y="336.22" width="7.98" height="186.28" fill="#fdd283"/>
<rect x="158.85" y="328.43" width="7.98" height="194.07" fill="#fdd283"/>
<rect x="166.83" y="342.98" width="7.98" height="179.52" fill="#fdd283"/>
<rect x="174.81" y="381.18" width="7.98" height="141.32" fill="#fdd283"/>
<rect x="182.79" y="389.24" width="7.98" height="133.26" fill="#fdd283"/>
<rect x="190.77" y="398.85" width="7.98" height="123.65" fill="#fdd283"/>
<rect x="198.75" y="426.66" width="7.98" height="95.84" fill="#fdd283"/>
<rect x="206.73" y="431.86" width="7.98" height="90.64" fill="#fdd283"/>
<rect x="214.71" y="469.28" width="7.98" height="53.22" fill="#fdd283"/>
<rect x="222.69" y="482.27" width="7.98" height="40.23" fill="#fdd283"/>
<rect x="230.67" y="496.83" width="7.98" height="25.67" fill="#fdd283"/>
<rect x="238.65" y="515.80" width="7.98" height="6.70" fill="#fdd283"/>
<rect x="246.63" y="510.60" width="7.98" height="11.90" fill="#fdd283"/>
<rect x="254.61" y="504.88" width="7.98" height="17.62" fill="#fdd283"/>
<rect x="262.59" y="515.28" width="7.98" height="7.22" fill="#fdd283"/>
<rect x="270.57" y="518.66" width="7.98" height="3.84" fill="#fdd283"/>
<line x1="39.15" y1="507.48" x2="39.15" y2="522.50" stroke="#5a4a30" stroke-width="0.9" stroke-opacity="0.85"/>
<line x1="47.13" y1="507.48" x2="47.13" y2="522.50" stroke="#5a4a30" stroke-width="0.9" stroke-opacity="0.85"/>
<line x1="47.13" y1="507.48" x2="47.13" y2="522.50" stroke="#5a4a30" stroke-width="0.9" stroke-opacity="0.85"/>
<line x1="55.11" y1="507.48" x2="55.11" y2="522.50" stroke="#5a4a30" stroke-width="0.9" stroke-opacity="0.85"/>
<line x1="55.11" y1="502.28" x2="55.11" y2="522.50" stroke="#5a4a30" stroke-width="0.9" stroke-opacity="0.85"/>
<line x1="63.09" y1="502.28" x2="63.09" y2="522.50" stroke="#5a4a30" stroke-width="0.9" stroke-opacity="0.85"/>
<line x1="63.09" y1="485.13" x2="63.09" y2="522.50" stroke="#5a4a30" stroke-width="0.9" stroke-opacity="0.85"/>
<line x1="71.07" y1="485.13" x2="71.07" y2="522.50" stroke="#5a4a30" stroke-width="0.9" stroke-opacity="0.85"/>
<line x1="71.07" y1="477.08" x2="71.07" y2="522.50" stroke="#5a4a30" stroke-width="0.9" stroke-opacity="0.85"/>
<line x1="79.05" y1="477.08" x2="79.05" y2="522.50" stroke="#5a4a30" stroke-width="0.9" stroke-opacity="0.85"/>
<line x1="79.05" y1="467.20" x2="79.05" y2="522.50" stroke="#5a4a30" stroke-width="0.9" stroke-opacity="0.85"/>
<line x1="87.03" y1="467.20" x2="87.03" y2="522.50" stroke="#5a4a30" stroke-width="0.9" stroke-opacity="0.85"/>
<line x1="87.03" y1="437.06" x2="87.03" y2="522.50" stroke="#5a4a30" stroke-width="0.9" stroke-opacity="0.85"/>
<line x1="95.01" y1="437.06" x2="95.01" y2="522.50" stroke="#5a4a30" stroke-width="0.9" stroke-opacity="0.85"/>
<line x1="95.01" y1="421.46" x2="95.01" y2="522.50" stroke="#5a4a30" stroke-width="0.9" stroke-opacity="0.85"/>
<line x1="102.99" y1="421.46" x2="102.99" y2="522.50" stroke="#5a4a30" stroke-width="0.9" stroke-opacity="0.85"/>
<line x1="102.99" y1="414.45" x2="102.99" y2="522.50" stroke="#5a4a30" stroke-width="0.9" stroke-opacity="0.85"/>
<line x1="110.97" y1="414.45" x2="110.97" y2="522.50" stroke="#5a4a30" stroke-width="0.9" stroke-opacity="0.85"/>
<line x1="110.97" y1="396.00" x2="110.97" y2="522.50" stroke="#5a4a30" stroke-width="0.9" stroke-opacity="0.85"/>
<line x1="118.95" y1="396.00" x2="118.95" y2="522.50" stroke="#5a4a30" stroke-width="0.9" stroke-opacity="0.85"/>
<line x1="118.95" y1="412.37" x2="118.95" y2="522.50" stroke="#5a4a30" stroke-width="0.9" stroke-opacity="0.85"/>
<line x1="126.93" y1="412.37" x2="126.93" y2="522.50" stroke="#5a4a30" stroke-width="0.9" stroke-opacity="0.85"/>
<line x1="126.93" y1="386.64" x2="126.93" y2="522.50" stroke="#5a4a30" stroke-width="0.9" stroke-opacity="0.85"/>
<line x1="134.91" y1="386.64" x2="134.91" y2="522.50" stroke="#5a4a30" stroke-width="0.9" stroke-opacity="0.85"/>
<line x1="134.91" y1="316.21" x2="134.91" y2="522.50" stroke="#5a4a30" stroke-width="0.9" stroke-opacity="0.85"/>
<line x1="142.89" y1="316.21" x2="142.89" y2="522.50" stroke="#5a4a30" stroke-width="0.9" stroke-opacity="0.85"/>
<line x1="142.89" y1="376.77" x2="142.89" y2="522.50" stroke="#5a4a30" stroke-width="0.9" stroke-opacity="0.85"/>
<line x1="150.87" y1="376.77" x2="150.87" y2="522.50" stroke="#5a4a30" stroke-width="0.9" stroke-opacity="0.85"/>
<line x1="150.87" y1="336.22" x2="150.87" y2="522.50" stroke="#5a4a30" stroke-width="0.9" stroke-opacity="0.85"/>
<line x1="158.85" y1="336.22" x2="158.85" y2="522.50" stroke="#5a4a30" stroke-width="0.9" stroke-opacity="0.85"/>
<line x1="158.85" y1="328.43" x2="158.85" y2="522.50" stroke="#5a4a30" stroke-width="0.9" stroke-opacity="0.85"/>
<line x1="166.83" y1="328.43" x2="166.83" y2="522.50" stroke="#5a4a30" stroke-width="0.9" stroke-opacity="0.85"/>
<line x1="166.83" y1="342.98" x2="166.83" y2="522.50" stroke="#5a4a30" stroke-width="0.9" stroke-opacity="0.85"/>
<line x1="174.81" y1="342.98" x2="174.81" y2="522.50" stroke="#5a4a30" stroke-width="0.9" stroke-opacity="0.85"/>
<line x1="174.81" y1="381.18" x2="174.81" y2="522.50" stroke="#5a4a30" stroke-width="0.9" stroke-opacity="0.85"/>
<line x1="182.79" y1="381.18" x2="182.79" y2="522.50" stroke="#5a4a30" stroke-width="0.9" stroke-opacity="0.85"/>
<line x1="182.79" y1="389.24" x2="182.79" y2="522.50" stroke="#5a4a30" stroke-width="0.9" stroke-opacity="0.85"/>
<line x1="190.77" y1="389.24" x2="190.77" y2="522.50" stroke="#5a4a30" stroke-width="0.9" stroke-opacity="0.85"/>
<line x1="190.77" y1="398.85" x2="190.77" y2="522.50" stroke="#5a4a30" stroke-width="0.9" stroke-opacity="0.85"/>
<line x1="198.75" y1="398.85" x2="198.75" y2="522.50" stroke="#5a4a30" stroke-width="0.9" stroke-opacity="0.85"/>
<line x1="198.75" y1="426.66" x2="198.75" y2="522.50" stroke="#5a4a30" stroke-width="0.9" stroke-opacity="0.85"/>
<line x1="206.73" y1="426.66" x2="206.73" y2="522.50" stroke="#5a4a30" stroke-width="0.9" stroke-opacity="0.85"/>
<line x1="206.73" y1="431.86" x2="206.73" y2="522.50" stroke="#5a4a30" stroke-width="0.9" stroke-opacity="0.85"/>
<line x1="214.71" y1="431.86" x2="214.71" y2="522.50" stroke="#5a4a30" stroke-width="0.9" stroke-opacity="0.85"/>
<line x1="214.71" y1="469.28" x2="214.71" y2="522.50" stroke="#5a4a30" stroke-width="0.9" stroke-opacity="0.85"/>
<line x1="222.69" y1="469.28" x2="222.69" y2="522.50" stroke="#5a4a30" stroke-width="0.9" stroke-opacity="0.85"/>
<line x1="222.69" y1="482.27" x2="222.69" y2="522.50" stroke="#5a4a30" stroke-width="0.9" stroke-opacity="0.85"/>
<line x1="230.67" y1="482.27" x2="230.67" y2="522.50" stroke="#5a4a30" stroke-width="0.9" stroke-opacity="0.85"/>
<line x1="230.67" y1="496.83" x2="230.67" y2="522.50" stroke="#5a4a30" stroke-width="0.9" stroke-opacity="0.85"/>
<line x1="238.65" y1="496.83" x2="238.65" y2="522.50" stroke="#5a4a30" stroke-width="0.9" stroke-opacity="0.85"/>
<line x1="238.65" y1="515.80" x2="238.65" y2="522.50" stroke="#5a4a30" stroke-width="0.9" stroke-opacity="0.85"/>
<line x1="246.63" y1="515.80" x2="246.63" y2="522.50" stroke="#5a4a30" stroke-width="0.9" stroke-opacity="0.85"/>
<line x1="246.63" y1="510.60" x2="246.63" y2="522.50" stroke="#5a4a30" stroke-width="0.9" stroke-opacity="0.85"/>
<line x1="254.61" y1="510.60" x2="254.61" y2="522.50" stroke="#5a4a30" stroke-width="0.9" stroke-opacity="0.85"/>
<line x1="254.61" y1="504.88" x2="254.61" y2="522.50" stroke="#5a4a30" stroke-width="0.9" stroke-opacity="0.85"/>
<line x1="262.59" y1="504.88" x2="262.59" y2="522.50" stroke="#5a4a30" stroke-width="0.9" stroke-opacity="0.85"/>
<line x1="262.59" y1="515.28" x2="262.59" y2="522.50" stroke="#5a4a30" stroke-width="0.9" stroke-opacity="0.85"/>
<line x1="270.57" y1="515.28" x2="270.57" y2="522.50" stroke="#5a4a30" stroke-width="0.9" stroke-opacity="0.85"/>
<line x1="270.57" y1="518.66" x2="270.57" y2="522.50" stroke="#5a4a30" stroke-width="0.9" stroke-opacity="0.85"/>
<line x1="278.55" y1="518.66" x2="278.55" y2="522.50" stroke="#5a4a30" stroke-width="0.9" stroke-opacity="0.85"/>
<line x1="38.85" y1="507.48" x2="47.43" y2="507.48" stroke="#3c3833" stroke-width="1.5"/>
<line x1="46.83" y1="507.48" x2="55.41" y2="507.48" stroke="#3c3833" stroke-width="1.5"/>
<line x1="54.81" y1="502.28" x2="63.39" y2="502.28" stroke="#3c3833" stroke-width="1.5"/>
<line x1="62.79" y1="485.13" x2="71.37" y2="485.13" stroke="#3c3833" stroke-width="1.5"/>
<line x1="70.77" y1="477.08" x2="79.35" y2="477.08" stroke="#3c3833" stroke-width="1.5"/>
<line x1="78.75" y1="467.20" x2="87.33" y2="467.20" stroke="#3c3833" stroke-width="1.5"/>
<line x1="86.73" y1="437.06" x2="95.31" y2="437.06" stroke="#3c3833" stroke-width="1.5"/>
<line x1="94.71" y1="421.46" x2="103.29" y2="421.46" stroke="#3c3833" stroke-width="1.5"/>
<line x1="102.69" y1="414.45" x2="111.27" y2="414.45" stroke="#3c3833" stroke-width="1.5"/>
<line x1="110.67" y1="396.00" x2="119.25" y2="396.00" stroke="#3c3833" stroke-width="1.5"/>
<line x1="118.65" y1="412.37" x2="127.23" y2="412.37" stroke="#3c3833" stroke-width="1.5"/>
<line x1="126.63" y1="386.64" x2="135.21" y2="386.64" stroke="#3c3833" stroke-width="1.5"/>
<line x1="134.61" y1="316.21" x2="143.19" y2="316.21" stroke="#3c3833" stroke-width="1.5"/>
<line x1="142.59" y1="376.77" x2="151.17" y2="376.77" stroke="#3c3833" stroke-width="1.5"/>
<line x1="150.57" y1="336.22" x2="159.15" y2="336.22" stroke="#3c3833" stroke-width="1.5"/>
<line x1="158.55" y1="328.43" x2="167.13" y2="328.43" stroke="#3c3833" stroke-width="1.5"/>
<line x1="166.53" y1="342.98" x2="175.11" y2="342.98" stroke="#3c3833" stroke-width="1.5"/>
<line x1="174.51" y1="381.18" x2="183.09" y2="381.18" stroke="#3c3833" stroke-width="1.5"/>
<line x1="182.49" y1="389.24" x2="191.07" y2="389.24" stroke="#3c3833" stroke-width="1.5"/>
<line x1="190.47" y1="398.85" x2="199.05" y2="398.85" stroke="#3c3833" stroke-width="1.5"/>
<line x1="198.45" y1="426.66" x2="207.03" y2="426.66" stroke="#3c3833" stroke-width="1.5"/>
<line x1="206.43" y1="431.86" x2="215.01" y2="431.86" stroke="#3c3833" stroke-width="1.5"/>
<line x1="214.41" y1="469.28" x2="222.99" y2="469.28" stroke="#3c3833" stroke-width="1.5"/>
<line x1="222.39" y1="482.27" x2="230.97" y2="482.27" stroke="#3c3833" stroke-width="1.5"/>
<line x1="230.37" y1="496.83" x2="238.95" y2="496.83" stroke="#3c3833" stroke-width="1.5"/>
<line x1="238.35" y1="515.80" x2="246.93" y2="515.80" stroke="#3c3833" stroke-width="1.5"/>
<line x1="246.33" y1="510.60" x2="254.91" y2="510.60" stroke="#3c3833" stroke-width="1.5"/>
<line x1="254.31" y1="504.88" x2="262.89" y2="504.88" stroke="#3c3833" stroke-width="1.5"/>
<line x1="262.29" y1="515.28" x2="270.87" y2="515.28" stroke="#3c3833" stroke-width="1.5"/>
<line x1="270.27" y1="518.66" x2="278.85" y2="518.66" stroke="#3c3833" stroke-width="1.5"/>
<line x1="26.7" y1="522.5" x2="291.1" y2="522.5" stroke="#3a3a3a" stroke-width="1.4"/>
<g transform="translate(600.0,0) scale(0.55,1) translate(-600.0,0)"><path d="M-419.61,514.50 C-417.17,513.63 -409.85,511.25 -404.96,509.30 C-400.08,507.35 -395.20,505.40 -390.32,502.80 C-385.43,500.21 -380.47,497.39 -375.67,493.71 C-370.86,490.03 -366.30,485.48 -361.49,480.72 C-356.69,475.95 -351.73,470.32 -346.85,465.12 C-341.96,459.93 -337.08,454.73 -332.20,449.53 C-327.32,444.33 -322.43,438.79 -317.55,433.94 C-312.67,429.09 -307.79,424.67 -302.90,420.42 C-298.02,416.18 -293.14,412.02 -288.26,408.47 C-283.37,404.92 -278.18,403.32 -273.61,399.11 C-269.04,394.91 -265.50,389.02 -260.85,383.26 C-256.20,377.50 -250.69,369.62 -245.73,364.55 C-240.77,359.48 -235.49,355.80 -231.08,352.86 C-226.67,349.91 -222.42,348.22 -219.27,346.88 C-216.12,345.54 -214.47,345.28 -212.18,344.80 C-209.90,344.32 -207.85,344.02 -205.57,344.02 C-203.28,344.02 -200.92,344.24 -198.48,344.80 C-196.04,345.36 -194.94,344.76 -190.92,347.40 C-186.90,350.04 -179.42,355.98 -174.38,360.65 C-169.34,365.33 -165.01,370.79 -160.68,375.47 C-156.35,380.14 -152.10,384.60 -148.40,388.72 C-144.69,392.83 -141.78,396.08 -138.47,400.15 C-135.17,404.23 -132.65,407.95 -128.55,413.15 C-124.46,418.35 -118.71,424.84 -113.90,431.34 C-109.10,437.84 -104.53,445.20 -99.73,452.13 C-94.92,459.06 -89.96,466.42 -85.08,472.92 C-80.20,479.42 -75.32,486.13 -70.43,491.11 C-65.55,496.09 -60.59,499.99 -55.79,502.80 C-50.98,505.62 -46.41,506.57 -41.61,508.00 C-36.81,509.43 -31.85,510.30 -26.96,511.38 C-22.08,512.46 -17.20,513.46 -12.32,514.50 C-7.43,515.54 -2.47,516.75 2.33,517.62 C7.14,518.48 14.14,519.35 16.51,519.70" fill="none" stroke="#fbaa1c" stroke-width="1.75" stroke-linejoin="round" stroke-linecap="round"/></g>
<rect x="230.3" y="311.5" width="57.39999999999998" height="22.30000000000001" rx="1.5" fill="#ffffff" fill-opacity="0.8" stroke="#e2e2e2" stroke-width="0.9"/>
<rect x="232.5" y="317.8" width="10.8" height="9" fill="#fdd283" stroke="#3a3328" stroke-width="1.1"/>
<line x1="25.3" y1="522.45" x2="27.3" y2="522.45" stroke="#444" stroke-width="1.1"/>
<line x1="25.3" y1="494.53" x2="27.3" y2="494.53" stroke="#444" stroke-width="1.1"/>
<line x1="25.3" y1="466.61" x2="27.3" y2="466.61" stroke="#444" stroke-width="1.1"/>
<line x1="25.3" y1="438.69" x2="27.3" y2="438.69" stroke="#444" stroke-width="1.1"/>
<line x1="25.3" y1="410.77" x2="27.3" y2="410.77" stroke="#444" stroke-width="1.1"/>
<line x1="25.3" y1="382.85" x2="27.3" y2="382.85" stroke="#444" stroke-width="1.1"/>
<line x1="25.3" y1="354.93" x2="27.3" y2="354.93" stroke="#444" stroke-width="1.1"/>
<line x1="25.3" y1="327.01" x2="27.3" y2="327.01" stroke="#444" stroke-width="1.1"/>
<line x1="43.10" y1="522.5" x2="43.10" y2="526.5" stroke="#777" stroke-width="0.9"/>
<line x1="78.84" y1="522.5" x2="78.84" y2="526.5" stroke="#777" stroke-width="0.9"/>
<line x1="114.58" y1="522.5" x2="114.58" y2="526.5" stroke="#777" stroke-width="0.9"/>
<line x1="150.32" y1="522.5" x2="150.32" y2="526.5" stroke="#777" stroke-width="0.9"/>
<line x1="186.06" y1="522.5" x2="186.06" y2="526.5" stroke="#777" stroke-width="0.9"/>
<line x1="221.80" y1="522.5" x2="221.80" y2="526.5" stroke="#777" stroke-width="0.9"/>
<line x1="257.54" y1="522.5" x2="257.54" y2="526.5" stroke="#777" stroke-width="0.9"/>
<line x1="325.3" y1="305.8" x2="325.3" y2="522.5" stroke="#8a8a8a" stroke-width="1.2"/>
<line x1="588.7" y1="305.8" x2="588.7" y2="522.5" stroke="#a0a0a0" stroke-width="1.2"/>
<line x1="324.7" y1="305.8" x2="589.3000000000001" y2="305.8" stroke="#7f7f7f" stroke-width="1.5"/>
<rect x="336.95" y="521.00" width="7.98" height="1.50" fill="#fdd283"/>
<rect x="344.93" y="518.40" width="7.98" height="4.10" fill="#fdd283"/>
<rect x="352.91" y="513.46" width="7.98" height="9.04" fill="#fdd283"/>
<rect x="360.89" y="507.48" width="7.98" height="15.02" fill="#fdd283"/>
<rect x="368.87" y="507.48" width="7.98" height="15.02" fill="#fdd283"/>
<rect x="376.85" y="500.73" width="7.98" height="21.77" fill="#fdd283"/>
<rect x="384.83" y="483.31" width="7.98" height="39.19" fill="#fdd283"/>
<rect x="392.81" y="472.92" width="7.98" height="49.58" fill="#fdd283"/>
<rect x="400.79" y="466.42" width="7.98" height="56.08" fill="#fdd283"/>
<rect x="408.77" y="464.60" width="7.98" height="57.90" fill="#fdd283"/>
<rect x="416.75" y="409.25" width="7.98" height="113.25" fill="#fdd283"/>
<rect x="424.73" y="417.83" width="7.98" height="104.67" fill="#fdd283"/>
<rect x="432.71" y="383.26" width="7.98" height="139.24" fill="#fdd283"/>
<rect x="440.69" y="338.30" width="7.98" height="184.20" fill="#fdd283"/>
<rect x="448.67" y="316.21" width="7.98" height="206.29" fill="#fdd283"/>
<rect x="456.65" y="320.89" width="7.98" height="201.61" fill="#fdd283"/>
<rect x="464.63" y="335.70" width="7.98" height="186.80" fill="#fdd283"/>
<rect x="472.61" y="335.70" width="7.98" height="186.80" fill="#fdd283"/>
<rect x="480.59" y="364.29" width="7.98" height="158.21" fill="#fdd283"/>
<rect x="488.57" y="429.52" width="7.98" height="92.98" fill="#fdd283"/>
<rect x="496.55" y="433.94" width="7.98" height="88.56" fill="#fdd283"/>
<rect x="504.53" y="448.49" width="7.98" height="74.01" fill="#fdd283"/>
<rect x="512.51" y="474.48" width="7.98" height="48.02" fill="#fdd283"/>
<rect x="520.49" y="490.59" width="7.98" height="31.91" fill="#fdd283"/>
<rect x="528.47" y="491.63" width="7.98" height="30.87" fill="#fdd283"/>
<rect x="536.45" y="507.48" width="7.98" height="15.02" fill="#fdd283"/>
<rect x="544.43" y="512.42" width="7.98" height="10.08" fill="#fdd283"/>
<rect x="552.41" y="509.30" width="7.98" height="13.20" fill="#fdd283"/>
<rect x="560.39" y="513.46" width="7.98" height="9.04" fill="#fdd283"/>
<rect x="568.37" y="518.14" width="7.98" height="4.36" fill="#fdd283"/>
<line x1="336.95" y1="521.00" x2="336.95" y2="522.50" stroke="#5a4a30" stroke-width="0.9" stroke-opacity="0.85"/>
<line x1="344.93" y1="521.00" x2="344.93" y2="522.50" stroke="#5a4a30" stroke-width="0.9" stroke-opacity="0.85"/>
<line x1="344.93" y1="518.40" x2="344.93" y2="522.50" stroke="#5a4a30" stroke-width="0.9" stroke-opacity="0.85"/>
<line x1="352.91" y1="518.40" x2="352.91" y2="522.50" stroke="#5a4a30" stroke-width="0.9" stroke-opacity="0.85"/>
<line x1="352.91" y1="513.46" x2="352.91" y2="522.50" stroke="#5a4a30" stroke-width="0.9" stroke-opacity="0.85"/>
<line x1="360.89" y1="513.46" x2="360.89" y2="522.50" stroke="#5a4a30" stroke-width="0.9" stroke-opacity="0.85"/>
<line x1="360.89" y1="507.48" x2="360.89" y2="522.50" stroke="#5a4a30" stroke-width="0.9" stroke-opacity="0.85"/>
<line x1="368.87" y1="507.48" x2="368.87" y2="522.50" stroke="#5a4a30" stroke-width="0.9" stroke-opacity="0.85"/>
<line x1="368.87" y1="507.48" x2="368.87" y2="522.50" stroke="#5a4a30" stroke-width="0.9" stroke-opacity="0.85"/>
<line x1="376.85" y1="507.48" x2="376.85" y2="522.50" stroke="#5a4a30" stroke-width="0.9" stroke-opacity="0.85"/>
<line x1="376.85" y1="500.73" x2="376.85" y2="522.50" stroke="#5a4a30" stroke-width="0.9" stroke-opacity="0.85"/>
<line x1="384.83" y1="500.73" x2="384.83" y2="522.50" stroke="#5a4a30" stroke-width="0.9" stroke-opacity="0.85"/>
<line x1="384.83" y1="483.31" x2="384.83" y2="522.50" stroke="#5a4a30" stroke-width="0.9" stroke-opacity="0.85"/>
<line x1="392.81" y1="483.31" x2="392.81" y2="522.50" stroke="#5a4a30" stroke-width="0.9" stroke-opacity="0.85"/>
<line x1="392.81" y1="472.92" x2="392.81" y2="522.50" stroke="#5a4a30" stroke-width="0.9" stroke-opacity="0.85"/>
<line x1="400.79" y1="472.92" x2="400.79" y2="522.50" stroke="#5a4a30" stroke-width="0.9" stroke-opacity="0.85"/>
<line x1="400.79" y1="466.42" x2="400.79" y2="522.50" stroke="#5a4a30" stroke-width="0.9" stroke-opacity="0.85"/>
<line x1="408.77" y1="466.42" x2="408.77" y2="522.50" stroke="#5a4a30" stroke-width="0.9" stroke-opacity="0.85"/>
<line x1="408.77" y1="464.60" x2="408.77" y2="522.50" stroke="#5a4a30" stroke-width="0.9" stroke-opacity="0.85"/>
<line x1="416.75" y1="464.60" x2="416.75" y2="522.50" stroke="#5a4a30" stroke-width="0.9" stroke-opacity="0.85"/>
<line x1="416.75" y1="409.25" x2="416.75" y2="522.50" stroke="#5a4a30" stroke-width="0.9" stroke-opacity="0.85"/>
<line x1="424.73" y1="409.25" x2="424.73" y2="522.50" stroke="#5a4a30" stroke-width="0.9" stroke-opacity="0.85"/>
<line x1="424.73" y1="417.83" x2="424.73" y2="522.50" stroke="#5a4a30" stroke-width="0.9" stroke-opacity="0.85"/>
<line x1="432.71" y1="417.83" x2="432.71" y2="522.50" stroke="#5a4a30" stroke-width="0.9" stroke-opacity="0.85"/>
<line x1="432.71" y1="383.26" x2="432.71" y2="522.50" stroke="#5a4a30" stroke-width="0.9" stroke-opacity="0.85"/>
<line x1="440.69" y1="383.26" x2="440.69" y2="522.50" stroke="#5a4a30" stroke-width="0.9" stroke-opacity="0.85"/>
<line x1="440.69" y1="338.30" x2="440.69" y2="522.50" stroke="#5a4a30" stroke-width="0.9" stroke-opacity="0.85"/>
<line x1="448.67" y1="338.30" x2="448.67" y2="522.50" stroke="#5a4a30" stroke-width="0.9" stroke-opacity="0.85"/>
<line x1="448.67" y1="316.21" x2="448.67" y2="522.50" stroke="#5a4a30" stroke-width="0.9" stroke-opacity="0.85"/>
<line x1="456.65" y1="316.21" x2="456.65" y2="522.50" stroke="#5a4a30" stroke-width="0.9" stroke-opacity="0.85"/>
<line x1="456.65" y1="320.89" x2="456.65" y2="522.50" stroke="#5a4a30" stroke-width="0.9" stroke-opacity="0.85"/>
<line x1="464.63" y1="320.89" x2="464.63" y2="522.50" stroke="#5a4a30" stroke-width="0.9" stroke-opacity="0.85"/>
<line x1="464.63" y1="335.70" x2="464.63" y2="522.50" stroke="#5a4a30" stroke-width="0.9" stroke-opacity="0.85"/>
<line x1="472.61" y1="335.70" x2="472.61" y2="522.50" stroke="#5a4a30" stroke-width="0.9" stroke-opacity="0.85"/>
<line x1="472.61" y1="335.70" x2="472.61" y2="522.50" stroke="#5a4a30" stroke-width="0.9" stroke-opacity="0.85"/>
<line x1="480.59" y1="335.70" x2="480.59" y2="522.50" stroke="#5a4a30" stroke-width="0.9" stroke-opacity="0.85"/>
<line x1="480.59" y1="364.29" x2="480.59" y2="522.50" stroke="#5a4a30" stroke-width="0.9" stroke-opacity="0.85"/>
<line x1="488.57" y1="364.29" x2="488.57" y2="522.50" stroke="#5a4a30" stroke-width="0.9" stroke-opacity="0.85"/>
<line x1="488.57" y1="429.52" x2="488.57" y2="522.50" stroke="#5a4a30" stroke-width="0.9" stroke-opacity="0.85"/>
<line x1="496.55" y1="429.52" x2="496.55" y2="522.50" stroke="#5a4a30" stroke-width="0.9" stroke-opacity="0.85"/>
<line x1="496.55" y1="433.94" x2="496.55" y2="522.50" stroke="#5a4a30" stroke-width="0.9" stroke-opacity="0.85"/>
<line x1="504.53" y1="433.94" x2="504.53" y2="522.50" stroke="#5a4a30" stroke-width="0.9" stroke-opacity="0.85"/>
<line x1="504.53" y1="448.49" x2="504.53" y2="522.50" stroke="#5a4a30" stroke-width="0.9" stroke-opacity="0.85"/>
<line x1="512.51" y1="448.49" x2="512.51" y2="522.50" stroke="#5a4a30" stroke-width="0.9" stroke-opacity="0.85"/>
<line x1="512.51" y1="474.48" x2="512.51" y2="522.50" stroke="#5a4a30" stroke-width="0.9" stroke-opacity="0.85"/>
<line x1="520.49" y1="474.48" x2="520.49" y2="522.50" stroke="#5a4a30" stroke-width="0.9" stroke-opacity="0.85"/>
<line x1="520.49" y1="490.59" x2="520.49" y2="522.50" stroke="#5a4a30" stroke-width="0.9" stroke-opacity="0.85"/>
<line x1="528.47" y1="490.59" x2="528.47" y2="522.50" stroke="#5a4a30" stroke-width="0.9" stroke-opacity="0.85"/>
<line x1="528.47" y1="491.63" x2="528.47" y2="522.50" stroke="#5a4a30" stroke-width="0.9" stroke-opacity="0.85"/>
<line x1="536.45" y1="491.63" x2="536.45" y2="522.50" stroke="#5a4a30" stroke-width="0.9" stroke-opacity="0.85"/>
<line x1="536.45" y1="507.48" x2="536.45" y2="522.50" stroke="#5a4a30" stroke-width="0.9" stroke-opacity="0.85"/>
<line x1="544.43" y1="507.48" x2="544.43" y2="522.50" stroke="#5a4a30" stroke-width="0.9" stroke-opacity="0.85"/>
<line x1="544.43" y1="512.42" x2="544.43" y2="522.50" stroke="#5a4a30" stroke-width="0.9" stroke-opacity="0.85"/>
<line x1="552.41" y1="512.42" x2="552.41" y2="522.50" stroke="#5a4a30" stroke-width="0.9" stroke-opacity="0.85"/>
<line x1="552.41" y1="509.30" x2="552.41" y2="522.50" stroke="#5a4a30" stroke-width="0.9" stroke-opacity="0.85"/>
<line x1="560.39" y1="509.30" x2="560.39" y2="522.50" stroke="#5a4a30" stroke-width="0.9" stroke-opacity="0.85"/>
<line x1="560.39" y1="513.46" x2="560.39" y2="522.50" stroke="#5a4a30" stroke-width="0.9" stroke-opacity="0.85"/>
<line x1="568.37" y1="513.46" x2="568.37" y2="522.50" stroke="#5a4a30" stroke-width="0.9" stroke-opacity="0.85"/>
<line x1="568.37" y1="518.14" x2="568.37" y2="522.50" stroke="#5a4a30" stroke-width="0.9" stroke-opacity="0.85"/>
<line x1="576.35" y1="518.14" x2="576.35" y2="522.50" stroke="#5a4a30" stroke-width="0.9" stroke-opacity="0.85"/>
<line x1="336.65" y1="521.00" x2="345.23" y2="521.00" stroke="#3c3833" stroke-width="1.5"/>
<line x1="344.63" y1="518.40" x2="353.21" y2="518.40" stroke="#3c3833" stroke-width="1.5"/>
<line x1="352.61" y1="513.46" x2="361.19" y2="513.46" stroke="#3c3833" stroke-width="1.5"/>
<line x1="360.59" y1="507.48" x2="369.17" y2="507.48" stroke="#3c3833" stroke-width="1.5"/>
<line x1="368.57" y1="507.48" x2="377.15" y2="507.48" stroke="#3c3833" stroke-width="1.5"/>
<line x1="376.55" y1="500.73" x2="385.13" y2="500.73" stroke="#3c3833" stroke-width="1.5"/>
<line x1="384.53" y1="483.31" x2="393.11" y2="483.31" stroke="#3c3833" stroke-width="1.5"/>
<line x1="392.51" y1="472.92" x2="401.09" y2="472.92" stroke="#3c3833" stroke-width="1.5"/>
<line x1="400.49" y1="466.42" x2="409.07" y2="466.42" stroke="#3c3833" stroke-width="1.5"/>
<line x1="408.47" y1="464.60" x2="417.05" y2="464.60" stroke="#3c3833" stroke-width="1.5"/>
<line x1="416.45" y1="409.25" x2="425.03" y2="409.25" stroke="#3c3833" stroke-width="1.5"/>
<line x1="424.43" y1="417.83" x2="433.01" y2="417.83" stroke="#3c3833" stroke-width="1.5"/>
<line x1="432.41" y1="383.26" x2="440.99" y2="383.26" stroke="#3c3833" stroke-width="1.5"/>
<line x1="440.39" y1="338.30" x2="448.97" y2="338.30" stroke="#3c3833" stroke-width="1.5"/>
<line x1="448.37" y1="316.21" x2="456.95" y2="316.21" stroke="#3c3833" stroke-width="1.5"/>
<line x1="456.35" y1="320.89" x2="464.93" y2="320.89" stroke="#3c3833" stroke-width="1.5"/>
<line x1="464.33" y1="335.70" x2="472.91" y2="335.70" stroke="#3c3833" stroke-width="1.5"/>
<line x1="472.31" y1="335.70" x2="480.89" y2="335.70" stroke="#3c3833" stroke-width="1.5"/>
<line x1="480.29" y1="364.29" x2="488.87" y2="364.29" stroke="#3c3833" stroke-width="1.5"/>
<line x1="488.27" y1="429.52" x2="496.85" y2="429.52" stroke="#3c3833" stroke-width="1.5"/>
<line x1="496.25" y1="433.94" x2="504.83" y2="433.94" stroke="#3c3833" stroke-width="1.5"/>
<line x1="504.23" y1="448.49" x2="512.81" y2="448.49" stroke="#3c3833" stroke-width="1.5"/>
<line x1="512.21" y1="474.48" x2="520.79" y2="474.48" stroke="#3c3833" stroke-width="1.5"/>
<line x1="520.19" y1="490.59" x2="528.77" y2="490.59" stroke="#3c3833" stroke-width="1.5"/>
<line x1="528.17" y1="491.63" x2="536.75" y2="491.63" stroke="#3c3833" stroke-width="1.5"/>
<line x1="536.15" y1="507.48" x2="544.73" y2="507.48" stroke="#3c3833" stroke-width="1.5"/>
<line x1="544.13" y1="512.42" x2="552.71" y2="512.42" stroke="#3c3833" stroke-width="1.5"/>
<line x1="552.11" y1="509.30" x2="560.69" y2="509.30" stroke="#3c3833" stroke-width="1.5"/>
<line x1="560.09" y1="513.46" x2="568.67" y2="513.46" stroke="#3c3833" stroke-width="1.5"/>
<line x1="568.07" y1="518.14" x2="576.65" y2="518.14" stroke="#3c3833" stroke-width="1.5"/>
<line x1="324.7" y1="522.5" x2="589.3000000000001" y2="522.5" stroke="#3a3a3a" stroke-width="1.4"/>
<g transform="translate(600.0,0) scale(0.55,1) translate(-600.0,0)"><path d="M121.26,521.00 C123.86,520.56 131.82,519.48 136.86,518.40 C141.90,517.31 146.62,515.93 151.50,514.50 C156.39,513.07 161.35,511.21 166.15,509.82 C170.95,508.44 175.52,507.79 180.33,506.18 C185.13,504.58 190.09,502.80 194.97,500.21 C199.86,497.61 204.74,494.19 209.62,490.59 C214.50,487.00 219.39,482.01 224.27,478.64 C229.15,475.26 234.11,473.44 238.92,470.32 C243.72,467.20 248.29,465.12 253.09,459.93 C257.89,454.73 262.86,446.50 267.74,439.14 C272.62,431.77 277.58,424.41 282.39,415.75 C287.19,407.08 291.76,397.12 296.56,387.16 C301.36,377.20 306.48,364.72 311.21,355.98 C315.93,347.23 321.05,339.30 324.91,334.67 C328.77,330.03 331.21,329.68 334.36,328.17 C337.51,326.65 340.66,325.57 343.81,325.57 C346.96,325.57 350.11,326.65 353.26,328.17 C356.41,329.68 359.64,331.76 362.71,334.67 C365.78,337.57 368.14,340.38 371.69,345.58 C375.23,350.78 379.48,358.05 383.97,365.85 C388.46,373.65 393.74,383.18 398.62,392.36 C403.50,401.54 408.39,412.06 413.27,420.94 C418.15,429.82 423.11,438.27 427.92,445.63 C432.72,453.00 437.29,459.28 442.09,465.12 C446.89,470.97 451.86,476.04 456.74,480.72 C461.62,485.39 466.50,489.51 471.39,493.19 C476.27,496.87 481.23,500.21 486.03,502.80 C490.84,505.40 495.40,507.27 500.21,508.78 C505.01,510.30 509.97,510.86 514.86,511.90 C519.74,512.94 524.62,513.94 529.50,515.02 C534.39,516.10 539.35,517.40 544.15,518.40 C548.95,519.39 555.96,520.56 558.33,521.00" fill="none" stroke="#fbaa1c" stroke-width="1.75" stroke-linejoin="round" stroke-linecap="round"/></g>
<rect x="528.3" y="311.5" width="57.200000000000045" height="22.30000000000001" rx="1.5" fill="#ffffff" fill-opacity="0.8" stroke="#e2e2e2" stroke-width="0.9"/>
<rect x="530.5" y="317.8" width="10.8" height="9" fill="#fdd283" stroke="#3a3328" stroke-width="1.1"/>
<line x1="323.3" y1="522.45" x2="325.3" y2="522.45" stroke="#444" stroke-width="1.1"/>
<line x1="323.3" y1="475.31" x2="325.3" y2="475.31" stroke="#444" stroke-width="1.1"/>
<line x1="323.3" y1="428.17" x2="325.3" y2="428.17" stroke="#444" stroke-width="1.1"/>
<line x1="323.3" y1="381.03" x2="325.3" y2="381.03" stroke="#444" stroke-width="1.1"/>
<line x1="323.3" y1="333.89" x2="325.3" y2="333.89" stroke="#444" stroke-width="1.1"/>
<line x1="347.60" y1="522.5" x2="347.60" y2="526.5" stroke="#777" stroke-width="0.9"/>
<line x1="384.25" y1="522.5" x2="384.25" y2="526.5" stroke="#777" stroke-width="0.9"/>
<line x1="420.90" y1="522.5" x2="420.90" y2="526.5" stroke="#777" stroke-width="0.9"/>
<line x1="457.55" y1="522.5" x2="457.55" y2="526.5" stroke="#777" stroke-width="0.9"/>
<line x1="494.20" y1="522.5" x2="494.20" y2="526.5" stroke="#777" stroke-width="0.9"/>
<line x1="530.85" y1="522.5" x2="530.85" y2="526.5" stroke="#777" stroke-width="0.9"/>
<line x1="567.50" y1="522.5" x2="567.50" y2="526.5" stroke="#777" stroke-width="0.9"/>
<line x1="27.3" y1="591" x2="27.3" y2="808.6" stroke="#dedede" stroke-width="1.2"/>
<line x1="290.5" y1="591" x2="290.5" y2="808.6" stroke="#efefef" stroke-width="1.2"/>
<line x1="26.7" y1="591" x2="291.1" y2="591" stroke="#7f7f7f" stroke-width="1.5"/>
<rect x="39.15" y="805.22" width="7.98" height="3.38" fill="#fdd283"/>
<rect x="47.13" y="800.02" width="7.98" height="8.58" fill="#fdd283"/>
<rect x="55.11" y="795.60" width="7.98" height="13.00" fill="#fdd283"/>
<rect x="63.09" y="780.01" width="7.98" height="28.59" fill="#fdd283"/>
<rect x="71.07" y="777.41" width="7.98" height="31.19" fill="#fdd283"/>
<rect x="79.05" y="764.42" width="7.98" height="44.18" fill="#fdd283"/>
<rect x="87.03" y="737.91" width="7.98" height="70.69" fill="#fdd283"/>
<rect x="95.01" y="733.75" width="7.98" height="74.85" fill="#fdd283"/>
<rect x="102.99" y="677.88" width="7.98" height="130.72" fill="#fdd283"/>
<rect x="110.97" y="664.88" width="7.98" height="143.72" fill="#fdd283"/>
<rect x="118.95" y="639.16" width="7.98" height="169.44" fill="#fdd283"/>
<rect x="126.93" y="636.30" width="7.98" height="172.30" fill="#fdd283"/>
<rect x="134.91" y="639.16" width="7.98" height="169.44" fill="#fdd283"/>
<rect x="142.89" y="643.57" width="7.98" height="165.03" fill="#fdd283"/>
<rect x="150.87" y="601.21" width="7.98" height="207.39" fill="#fdd283"/>
<rect x="158.85" y="618.89" width="7.98" height="189.71" fill="#fdd283"/>
<rect x="166.83" y="658.65" width="7.98" height="149.95" fill="#fdd283"/>
<rect x="174.81" y="693.47" width="7.98" height="115.13" fill="#fdd283"/>
<rect x="182.79" y="724.65" width="7.98" height="83.95" fill="#fdd283"/>
<rect x="190.77" y="739.73" width="7.98" height="68.87" fill="#fdd283"/>
<rect x="198.75" y="737.91" width="7.98" height="70.69" fill="#fdd283"/>
<rect x="206.73" y="770.91" width="7.98" height="37.69" fill="#fdd283"/>
<rect x="214.71" y="788.32" width="7.98" height="20.28" fill="#fdd283"/>
<rect x="222.69" y="792.48" width="7.98" height="16.12" fill="#fdd283"/>
<rect x="230.67" y="800.02" width="7.98" height="8.58" fill="#fdd283"/>
<rect x="238.65" y="801.58" width="7.98" height="7.02" fill="#fdd283"/>
<rect x="246.63" y="805.22" width="7.98" height="3.38" fill="#fdd283"/>
<rect x="254.61" y="806.00" width="7.98" height="2.60" fill="#fdd283"/>
<rect x="270.57" y="804.18" width="7.98" height="4.42" fill="#fdd283"/>
<line x1="39.15" y1="805.22" x2="39.15" y2="808.60" stroke="#5a4a30" stroke-width="0.9" stroke-opacity="0.85"/>
<line x1="47.13" y1="805.22" x2="47.13" y2="808.60" stroke="#5a4a30" stroke-width="0.9" stroke-opacity="0.85"/>
<line x1="47.13" y1="800.02" x2="47.13" y2="808.60" stroke="#5a4a30" stroke-width="0.9" stroke-opacity="0.85"/>
<line x1="55.11" y1="800.02" x2="55.11" y2="808.60" stroke="#5a4a30" stroke-width="0.9" stroke-opacity="0.85"/>
<line x1="55.11" y1="795.60" x2="55.11" y2="808.60" stroke="#5a4a30" stroke-width="0.9" stroke-opacity="0.85"/>
<line x1="63.09" y1="795.60" x2="63.09" y2="808.60" stroke="#5a4a30" stroke-width="0.9" stroke-opacity="0.85"/>
<line x1="63.09" y1="780.01" x2="63.09" y2="808.60" stroke="#5a4a30" stroke-width="0.9" stroke-opacity="0.85"/>
<line x1="71.07" y1="780.01" x2="71.07" y2="808.60" stroke="#5a4a30" stroke-width="0.9" stroke-opacity="0.85"/>
<line x1="71.07" y1="777.41" x2="71.07" y2="808.60" stroke="#5a4a30" stroke-width="0.9" stroke-opacity="0.85"/>
<line x1="79.05" y1="777.41" x2="79.05" y2="808.60" stroke="#5a4a30" stroke-width="0.9" stroke-opacity="0.85"/>
<line x1="79.05" y1="764.42" x2="79.05" y2="808.60" stroke="#5a4a30" stroke-width="0.9" stroke-opacity="0.85"/>
<line x1="87.03" y1="764.42" x2="87.03" y2="808.60" stroke="#5a4a30" stroke-width="0.9" stroke-opacity="0.85"/>
<line x1="87.03" y1="737.91" x2="87.03" y2="808.60" stroke="#5a4a30" stroke-width="0.9" stroke-opacity="0.85"/>
<line x1="95.01" y1="737.91" x2="95.01" y2="808.60" stroke="#5a4a30" stroke-width="0.9" stroke-opacity="0.85"/>
<line x1="95.01" y1="733.75" x2="95.01" y2="808.60" stroke="#5a4a30" stroke-width="0.9" stroke-opacity="0.85"/>
<line x1="102.99" y1="733.75" x2="102.99" y2="808.60" stroke="#5a4a30" stroke-width="0.9" stroke-opacity="0.85"/>
<line x1="102.99" y1="677.88" x2="102.99" y2="808.60" stroke="#5a4a30" stroke-width="0.9" stroke-opacity="0.85"/>
<line x1="110.97" y1="677.88" x2="110.97" y2="808.60" stroke="#5a4a30" stroke-width="0.9" stroke-opacity="0.85"/>
<line x1="110.97" y1="664.88" x2="110.97" y2="808.60" stroke="#5a4a30" stroke-width="0.9" stroke-opacity="0.85"/>
<line x1="118.95" y1="664.88" x2="118.95" y2="808.60" stroke="#5a4a30" stroke-width="0.9" stroke-opacity="0.85"/>
<line x1="118.95" y1="639.16" x2="118.95" y2="808.60" stroke="#5a4a30" stroke-width="0.9" stroke-opacity="0.85"/>
<line x1="126.93" y1="639.16" x2="126.93" y2="808.60" stroke="#5a4a30" stroke-width="0.9" stroke-opacity="0.85"/>
<line x1="126.93" y1="636.30" x2="126.93" y2="808.60" stroke="#5a4a30" stroke-width="0.9" stroke-opacity="0.85"/>
<line x1="134.91" y1="636.30" x2="134.91" y2="808.60" stroke="#5a4a30" stroke-width="0.9" stroke-opacity="0.85"/>
<line x1="134.91" y1="639.16" x2="134.91" y2="808.60" stroke="#5a4a30" stroke-width="0.9" stroke-opacity="0.85"/>
<line x1="142.89" y1="639.16" x2="142.89" y2="808.60" stroke="#5a4a30" stroke-width="0.9" stroke-opacity="0.85"/>
<line x1="142.89" y1="643.57" x2="142.89" y2="808.60" stroke="#5a4a30" stroke-width="0.9" stroke-opacity="0.85"/>
<line x1="150.87" y1="643.57" x2="150.87" y2="808.60" stroke="#5a4a30" stroke-width="0.9" stroke-opacity="0.85"/>
<line x1="150.87" y1="601.21" x2="150.87" y2="808.60" stroke="#5a4a30" stroke-width="0.9" stroke-opacity="0.85"/>
<line x1="158.85" y1="601.21" x2="158.85" y2="808.60" stroke="#5a4a30" stroke-width="0.9" stroke-opacity="0.85"/>
<line x1="158.85" y1="618.89" x2="158.85" y2="808.60" stroke="#5a4a30" stroke-width="0.9" stroke-opacity="0.85"/>
<line x1="166.83" y1="618.89" x2="166.83" y2="808.60" stroke="#5a4a30" stroke-width="0.9" stroke-opacity="0.85"/>
<line x1="166.83" y1="658.65" x2="166.83" y2="808.60" stroke="#5a4a30" stroke-width="0.9" stroke-opacity="0.85"/>
<line x1="174.81" y1="658.65" x2="174.81" y2="808.60" stroke="#5a4a30" stroke-width="0.9" stroke-opacity="0.85"/>
<line x1="174.81" y1="693.47" x2="174.81" y2="808.60" stroke="#5a4a30" stroke-width="0.9" stroke-opacity="0.85"/>
<line x1="182.79" y1="693.47" x2="182.79" y2="808.60" stroke="#5a4a30" stroke-width="0.9" stroke-opacity="0.85"/>
<line x1="182.79" y1="724.65" x2="182.79" y2="808.60" stroke="#5a4a30" stroke-width="0.9" stroke-opacity="0.85"/>
<line x1="190.77" y1="724.65" x2="190.77" y2="808.60" stroke="#5a4a30" stroke-width="0.9" stroke-opacity="0.85"/>
<line x1="190.77" y1="739.73" x2="190.77" y2="808.60" stroke="#5a4a30" stroke-width="0.9" stroke-opacity="0.85"/>
<line x1="198.75" y1="739.73" x2="198.75" y2="808.60" stroke="#5a4a30" stroke-width="0.9" stroke-opacity="0.85"/>
<line x1="198.75" y1="737.91" x2="198.75" y2="808.60" stroke="#5a4a30" stroke-width="0.9" stroke-opacity="0.85"/>
<line x1="206.73" y1="737.91" x2="206.73" y2="808.60" stroke="#5a4a30" stroke-width="0.9" stroke-opacity="0.85"/>
<line x1="206.73" y1="770.91" x2="206.73" y2="808.60" stroke="#5a4a30" stroke-width="0.9" stroke-opacity="0.85"/>
<line x1="214.71" y1="770.91" x2="214.71" y2="808.60" stroke="#5a4a30" stroke-width="0.9" stroke-opacity="0.85"/>
<line x1="214.71" y1="788.32" x2="214.71" y2="808.60" stroke="#5a4a30" stroke-width="0.9" stroke-opacity="0.85"/>
<line x1="222.69" y1="788.32" x2="222.69" y2="808.60" stroke="#5a4a30" stroke-width="0.9" stroke-opacity="0.85"/>
<line x1="222.69" y1="792.48" x2="222.69" y2="808.60" stroke="#5a4a30" stroke-width="0.9" stroke-opacity="0.85"/>
<line x1="230.67" y1="792.48" x2="230.67" y2="808.60" stroke="#5a4a30" stroke-width="0.9" stroke-opacity="0.85"/>
<line x1="230.67" y1="800.02" x2="230.67" y2="808.60" stroke="#5a4a30" stroke-width="0.9" stroke-opacity="0.85"/>
<line x1="238.65" y1="800.02" x2="238.65" y2="808.60" stroke="#5a4a30" stroke-width="0.9" stroke-opacity="0.85"/>
<line x1="238.65" y1="801.58" x2="238.65" y2="808.60" stroke="#5a4a30" stroke-width="0.9" stroke-opacity="0.85"/>
<line x1="246.63" y1="801.58" x2="246.63" y2="808.60" stroke="#5a4a30" stroke-width="0.9" stroke-opacity="0.85"/>
<line x1="246.63" y1="805.22" x2="246.63" y2="808.60" stroke="#5a4a30" stroke-width="0.9" stroke-opacity="0.85"/>
<line x1="254.61" y1="805.22" x2="254.61" y2="808.60" stroke="#5a4a30" stroke-width="0.9" stroke-opacity="0.85"/>
<line x1="254.61" y1="806.00" x2="254.61" y2="808.60" stroke="#5a4a30" stroke-width="0.9" stroke-opacity="0.85"/>
<line x1="262.59" y1="806.00" x2="262.59" y2="808.60" stroke="#5a4a30" stroke-width="0.9" stroke-opacity="0.85"/>
<line x1="270.57" y1="804.18" x2="270.57" y2="808.60" stroke="#5a4a30" stroke-width="0.9" stroke-opacity="0.85"/>
<line x1="278.55" y1="804.18" x2="278.55" y2="808.60" stroke="#5a4a30" stroke-width="0.9" stroke-opacity="0.85"/>
<line x1="38.85" y1="805.22" x2="47.43" y2="805.22" stroke="#3c3833" stroke-width="1.5"/>
<line x1="46.83" y1="800.02" x2="55.41" y2="800.02" stroke="#3c3833" stroke-width="1.5"/>
<line x1="54.81" y1="795.60" x2="63.39" y2="795.60" stroke="#3c3833" stroke-width="1.5"/>
<line x1="62.79" y1="780.01" x2="71.37" y2="780.01" stroke="#3c3833" stroke-width="1.5"/>
<line x1="70.77" y1="777.41" x2="79.35" y2="777.41" stroke="#3c3833" stroke-width="1.5"/>
<line x1="78.75" y1="764.42" x2="87.33" y2="764.42" stroke="#3c3833" stroke-width="1.5"/>
<line x1="86.73" y1="737.91" x2="95.31" y2="737.91" stroke="#3c3833" stroke-width="1.5"/>
<line x1="94.71" y1="733.75" x2="103.29" y2="733.75" stroke="#3c3833" stroke-width="1.5"/>
<line x1="102.69" y1="677.88" x2="111.27" y2="677.88" stroke="#3c3833" stroke-width="1.5"/>
<line x1="110.67" y1="664.88" x2="119.25" y2="664.88" stroke="#3c3833" stroke-width="1.5"/>
<line x1="118.65" y1="639.16" x2="127.23" y2="639.16" stroke="#3c3833" stroke-width="1.5"/>
<line x1="126.63" y1="636.30" x2="135.21" y2="636.30" stroke="#3c3833" stroke-width="1.5"/>
<line x1="134.61" y1="639.16" x2="143.19" y2="639.16" stroke="#3c3833" stroke-width="1.5"/>
<line x1="142.59" y1="643.57" x2="151.17" y2="643.57" stroke="#3c3833" stroke-width="1.5"/>
<line x1="150.57" y1="601.21" x2="159.15" y2="601.21" stroke="#3c3833" stroke-width="1.5"/>
<line x1="158.55" y1="618.89" x2="167.13" y2="618.89" stroke="#3c3833" stroke-width="1.5"/>
<line x1="166.53" y1="658.65" x2="175.11" y2="658.65" stroke="#3c3833" stroke-width="1.5"/>
<line x1="174.51" y1="693.47" x2="183.09" y2="693.47" stroke="#3c3833" stroke-width="1.5"/>
<line x1="182.49" y1="724.65" x2="191.07" y2="724.65" stroke="#3c3833" stroke-width="1.5"/>
<line x1="190.47" y1="739.73" x2="199.05" y2="739.73" stroke="#3c3833" stroke-width="1.5"/>
<line x1="198.45" y1="737.91" x2="207.03" y2="737.91" stroke="#3c3833" stroke-width="1.5"/>
<line x1="206.43" y1="770.91" x2="215.01" y2="770.91" stroke="#3c3833" stroke-width="1.5"/>
<line x1="214.41" y1="788.32" x2="222.99" y2="788.32" stroke="#3c3833" stroke-width="1.5"/>
<line x1="222.39" y1="792.48" x2="230.97" y2="792.48" stroke="#3c3833" stroke-width="1.5"/>
<line x1="230.37" y1="800.02" x2="238.95" y2="800.02" stroke="#3c3833" stroke-width="1.5"/>
<line x1="238.35" y1="801.58" x2="246.93" y2="801.58" stroke="#3c3833" stroke-width="1.5"/>
<line x1="246.33" y1="805.22" x2="254.91" y2="805.22" stroke="#3c3833" stroke-width="1.5"/>
<line x1="254.31" y1="806.00" x2="262.89" y2="806.00" stroke="#3c3833" stroke-width="1.5"/>
<line x1="270.27" y1="804.18" x2="278.85" y2="804.18" stroke="#3c3833" stroke-width="1.5"/>
<line x1="26.7" y1="808.6" x2="291.1" y2="808.6" stroke="#3a3a3a" stroke-width="1.4"/>
<g transform="translate(600.0,0) scale(0.55,1) translate(-600.0,0)"><path d="M-419.61,805.22 C-417.17,804.61 -409.85,803.18 -404.96,801.58 C-400.08,799.98 -395.20,798.11 -390.32,795.60 C-385.43,793.09 -380.47,789.75 -375.67,786.51 C-370.86,783.26 -366.30,779.92 -361.49,776.11 C-356.69,772.30 -351.73,768.40 -346.85,763.64 C-341.96,758.87 -337.08,753.67 -332.20,747.52 C-327.32,741.37 -322.43,734.53 -317.55,726.73 C-312.67,718.94 -307.71,709.41 -302.90,700.75 C-298.10,692.08 -293.53,682.56 -288.73,674.76 C-283.92,666.96 -278.96,659.38 -274.08,653.97 C-269.20,648.55 -264.24,645.09 -259.43,642.27 C-254.63,639.46 -250.06,638.81 -245.26,637.08 C-240.45,635.34 -235.49,633.83 -230.61,631.88 C-225.73,629.93 -219.35,626.81 -215.96,625.38 C-212.58,623.95 -212.73,623.30 -210.29,623.30 C-207.85,623.30 -205.25,622.00 -201.32,625.38 C-197.38,628.76 -191.55,635.34 -186.67,643.57 C-181.79,651.80 -176.82,664.36 -172.02,674.76 C-167.22,685.15 -162.65,696.85 -157.85,705.94 C-153.04,715.04 -148.08,722.40 -143.20,729.33 C-138.32,736.26 -133.43,741.46 -128.55,747.52 C-123.67,753.59 -118.71,760.08 -113.90,765.72 C-109.10,771.35 -104.53,776.98 -99.73,781.31 C-94.92,785.64 -89.96,788.89 -85.08,791.70 C-80.20,794.52 -75.32,796.38 -70.43,798.20 C-65.55,800.02 -60.59,801.53 -55.79,802.62 C-50.98,803.70 -46.41,804.13 -41.61,804.70 C-36.81,805.26 -31.85,805.69 -26.96,806.00 C-22.08,806.30 -17.20,806.47 -12.32,806.52 C-7.43,806.56 -2.47,806.21 2.33,806.26 C7.14,806.30 14.14,806.69 16.51,806.78" fill="none" stroke="#fbaa1c" stroke-width="1.75" stroke-linejoin="round" stroke-linecap="round"/></g>
<rect x="230.3" y="596.7" width="57.39999999999998" height="22.299999999999955" rx="1.5" fill="#ffffff" fill-opacity="0.8" stroke="#e2e2e2" stroke-width="0.9"/>
<rect x="232.5" y="603.0" width="10.8" height="9" fill="#fdd283" stroke="#3a3328" stroke-width="1.1"/>
<line x1="25.3" y1="808.60" x2="27.3" y2="808.60" stroke="#444" stroke-width="1.1"/>
<line x1="25.3" y1="758.77" x2="27.3" y2="758.77" stroke="#444" stroke-width="1.1"/>
<line x1="25.3" y1="708.94" x2="27.3" y2="708.94" stroke="#444" stroke-width="1.1"/>
<line x1="25.3" y1="659.11" x2="27.3" y2="659.11" stroke="#444" stroke-width="1.1"/>
<line x1="25.3" y1="609.28" x2="27.3" y2="609.28" stroke="#444" stroke-width="1.1"/>
<line x1="38.90" y1="808.6" x2="38.90" y2="812.6" stroke="#777" stroke-width="0.9"/>
<line x1="74.30" y1="808.6" x2="74.30" y2="812.6" stroke="#777" stroke-width="0.9"/>
<line x1="109.70" y1="808.6" x2="109.70" y2="812.6" stroke="#777" stroke-width="0.9"/>
<line x1="145.10" y1="808.6" x2="145.10" y2="812.6" stroke="#777" stroke-width="0.9"/>
<line x1="180.50" y1="808.6" x2="180.50" y2="812.6" stroke="#777" stroke-width="0.9"/>
<line x1="215.90" y1="808.6" x2="215.90" y2="812.6" stroke="#777" stroke-width="0.9"/>
<line x1="251.30" y1="808.6" x2="251.30" y2="812.6" stroke="#777" stroke-width="0.9"/>
<line x1="286.70" y1="808.6" x2="286.70" y2="812.6" stroke="#777" stroke-width="0.9"/>
<line x1="638.3" y1="20.3" x2="638.3" y2="236.4" stroke="#6e6e6e" stroke-width="1.2"/>
<line x1="901.0" y1="20.3" x2="901.0" y2="236.4" stroke="#a8a8a8" stroke-width="1.2"/>
<line x1="637.6999999999999" y1="20.3" x2="901.6" y2="20.3" stroke="#5c5c5c" stroke-width="1.5"/>
<path d="M645.80,235.70 C648.83,235.70 658.88,235.78 663.99,235.70 C669.10,235.61 673.43,235.52 676.46,235.18 C679.49,234.83 679.93,234.83 682.18,233.62 C684.43,232.40 687.38,230.37 689.98,227.90 C692.57,225.43 694.96,222.62 697.77,218.80 C700.59,214.99 704.27,209.15 706.87,205.03 C709.47,200.92 710.98,199.40 713.36,194.12 C715.75,188.83 718.56,181.12 721.16,173.33 C723.76,165.53 726.36,155.57 728.96,147.34 C731.56,139.11 734.15,132.18 736.75,123.95 C739.35,115.72 741.95,107.06 744.55,97.96 C747.15,88.87 750.18,77.61 752.35,69.38 C754.51,61.15 756.03,54.22 757.54,48.59 C759.06,42.96 760.14,38.54 761.44,35.59 C762.74,32.65 764.26,31.56 765.34,30.91 C766.42,30.27 766.85,30.48 767.94,31.69 C769.02,32.91 770.10,34.94 771.84,38.19 C773.57,41.44 775.95,46.42 778.33,51.19 C780.71,55.95 783.96,62.01 786.13,66.78 C788.29,71.54 789.46,74.57 791.33,79.77 C793.19,84.97 795.14,89.73 797.30,97.96 C799.47,106.19 801.85,118.75 804.32,129.15 C806.79,139.54 809.52,150.80 812.12,160.33 C814.72,169.86 817.31,178.52 819.91,186.32 C822.51,194.12 825.11,201.57 827.71,207.11 C830.31,212.65 832.91,216.12 835.51,219.58 C838.10,223.05 840.70,225.86 843.30,227.90 C845.90,229.94 848.59,230.85 851.10,231.80 C853.61,232.75 855.78,233.14 858.37,233.62 C860.97,234.09 864.00,234.31 866.69,234.66 C869.38,235.00 873.19,235.52 874.49,235.70 L874.49,236.4 L645.80,236.4 Z" fill="#0000ff" fill-opacity="0.25"/>
<g transform="translate(600.0,0) scale(0.55,1) translate(-600.0,0)"><path d="M683.27,235.70 C688.78,235.70 707.05,235.78 716.34,235.70 C725.63,235.61 733.51,235.52 739.02,235.18 C744.53,234.83 745.32,234.83 749.42,233.62 C753.51,232.40 758.87,230.37 763.59,227.90 C768.32,225.43 772.65,222.62 777.77,218.80 C782.88,214.99 789.58,209.15 794.30,205.03 C799.03,200.92 801.78,199.40 806.12,194.12 C810.45,188.83 815.57,181.12 820.29,173.33 C825.02,165.53 829.74,155.57 834.47,147.34 C839.19,139.11 843.92,132.18 848.64,123.95 C853.37,115.72 858.09,107.06 862.82,97.96 C867.54,88.87 873.05,77.61 876.99,69.38 C880.93,61.15 883.68,54.22 886.44,48.59 C889.20,42.96 891.17,38.54 893.53,35.59 C895.89,32.65 898.65,31.56 900.62,30.91 C902.58,30.27 903.37,30.48 905.34,31.69 C907.31,32.91 909.28,34.94 912.43,38.19 C915.58,41.44 919.91,46.42 924.24,51.19 C928.57,55.95 934.48,62.01 938.42,66.78 C942.35,71.54 944.48,74.57 947.87,79.77 C951.25,84.97 954.80,89.73 958.73,97.96 C962.67,106.19 967.00,118.75 971.49,129.15 C975.98,139.54 980.94,150.80 985.67,160.33 C990.39,169.86 995.12,178.52 999.84,186.32 C1004.57,194.12 1009.29,201.57 1014.02,207.11 C1018.74,212.65 1023.47,216.12 1028.19,219.58 C1032.92,223.05 1037.64,225.86 1042.37,227.90 C1047.09,229.94 1051.97,230.85 1056.54,231.80 C1061.11,232.75 1065.05,233.14 1069.77,233.62 C1074.50,234.09 1080.01,234.31 1084.89,234.66 C1089.77,235.00 1096.70,235.52 1099.07,235.70" fill="none" stroke="#3b3bff" stroke-width="1.45"/></g>
<path d="M658.79,235.70 C660.96,235.57 667.89,235.57 671.78,234.92 C675.68,234.27 679.15,232.97 682.18,231.80 C685.21,230.63 687.38,229.85 689.98,227.90 C692.57,225.95 694.96,223.66 697.77,220.10 C700.59,216.55 704.27,211.14 706.87,206.59 C709.47,202.04 710.98,198.36 713.36,192.82 C715.75,187.27 718.56,180.91 721.16,173.33 C723.76,165.75 726.36,155.57 728.96,147.34 C731.56,139.11 734.15,132.61 736.75,123.95 C739.35,115.29 741.95,104.89 744.55,95.36 C747.15,85.84 750.18,74.57 752.35,66.78 C754.51,58.98 755.81,53.35 757.54,48.59 C759.28,43.82 761.22,40.36 762.74,38.19 C764.26,36.03 765.34,35.68 766.64,35.59 C767.94,35.51 768.59,36.59 770.54,37.67 C772.49,38.75 775.95,40.27 778.33,42.09 C780.71,43.91 783.10,45.77 784.83,48.59 C786.56,51.40 787.21,53.78 788.73,58.98 C790.24,64.18 792.50,73.71 793.93,79.77 C795.35,85.84 795.57,87.57 797.30,95.36 C799.04,103.16 801.85,115.72 804.32,126.55 C806.79,137.38 809.52,149.94 812.12,160.33 C814.72,170.73 817.31,180.69 819.91,188.92 C822.51,197.15 825.11,204.29 827.71,209.71 C830.31,215.12 832.91,218.37 835.51,221.40 C838.10,224.44 840.70,226.30 843.30,227.90 C845.90,229.50 848.59,230.15 851.10,231.02 C853.61,231.88 855.78,232.49 858.37,233.10 C860.97,233.70 863.14,234.22 866.69,234.66 C870.24,235.09 876.00,235.52 879.68,235.70 C883.37,235.87 887.26,235.70 888.78,235.70 L888.78,236.4 L658.79,236.4 Z" fill="#ffa500" fill-opacity="0.25"/>
<g transform="translate(600.0,0) scale(0.55,1) translate(-600.0,0)"><path d="M706.89,235.70 C710.83,235.57 723.43,235.57 730.52,234.92 C737.60,234.27 743.90,232.97 749.42,231.80 C754.93,230.63 758.87,229.85 763.59,227.90 C768.32,225.95 772.65,223.66 777.77,220.10 C782.88,216.55 789.58,211.14 794.30,206.59 C799.03,202.04 801.78,198.36 806.12,192.82 C810.45,187.27 815.57,180.91 820.29,173.33 C825.02,165.75 829.74,155.57 834.47,147.34 C839.19,139.11 843.92,132.61 848.64,123.95 C853.37,115.29 858.09,104.89 862.82,95.36 C867.54,85.84 873.05,74.57 876.99,66.78 C880.93,58.98 883.29,53.35 886.44,48.59 C889.59,43.82 893.13,40.36 895.89,38.19 C898.65,36.03 900.62,35.68 902.98,35.59 C905.34,35.51 906.52,36.59 910.07,37.67 C913.61,38.75 919.91,40.27 924.24,42.09 C928.57,43.91 932.90,45.77 936.05,48.59 C939.20,51.40 940.38,53.78 943.14,58.98 C945.90,64.18 949.99,73.71 952.59,79.77 C955.19,85.84 955.58,87.57 958.73,95.36 C961.88,103.16 967.00,115.72 971.49,126.55 C975.98,137.38 980.94,149.94 985.67,160.33 C990.39,170.73 995.12,180.69 999.84,188.92 C1004.57,197.15 1009.29,204.29 1014.02,209.71 C1018.74,215.12 1023.47,218.37 1028.19,221.40 C1032.92,224.44 1037.64,226.30 1042.37,227.90 C1047.09,229.50 1051.97,230.15 1056.54,231.02 C1061.11,231.88 1065.05,232.49 1069.77,233.10 C1074.50,233.70 1078.43,234.22 1084.89,234.66 C1091.35,235.09 1101.82,235.52 1108.52,235.70 C1115.21,235.87 1122.30,235.70 1125.05,235.70" fill="none" stroke="#f8a51c" stroke-width="1.4" stroke-dasharray="3.2,2.2"/></g>
<line x1="637.6999999999999" y1="236.4" x2="901.6" y2="236.4" stroke="#3a3a3a" stroke-width="1.4"/>
<rect x="841.5" y="26.3" width="57.0" height="41.2" rx="1.5" fill="#ffffff" fill-opacity="0.8" stroke="#e2e2e2" stroke-width="0.9"/>
<rect x="843.8" y="32.8" width="10.2" height="9.4" fill="#c8c8ff" stroke="#2020ff" stroke-width="1.5"/>
<rect x="843.8" y="51.1" width="10.2" height="9.4" fill="#ffe6c0" stroke="#ffa500" stroke-width="1.5" stroke-dasharray="2,1.3"/>
<line x1="636.3" y1="236.40" x2="638.3" y2="236.40" stroke="#444" stroke-width="1.1"/>
<line x1="636.3" y1="185.10" x2="638.3" y2="185.10" stroke="#444" stroke-width="1.1"/>
<line x1="636.3" y1="133.80" x2="638.3" y2="133.80" stroke="#444" stroke-width="1.1"/>
<line x1="636.3" y1="82.50" x2="638.3" y2="82.50" stroke="#444" stroke-width="1.1"/>
<line x1="636.3" y1="31.20" x2="638.3" y2="31.20" stroke="#444" stroke-width="1.1"/>
<line x1="645.60" y1="236.4" x2="645.60" y2="240.4" stroke="#777" stroke-width="0.9"/>
<line x1="676.00" y1="236.4" x2="676.00" y2="240.4" stroke="#777" stroke-width="0.9"/>
<line x1="706.40" y1="236.4" x2="706.40" y2="240.4" stroke="#777" stroke-width="0.9"/>
<line x1="736.80" y1="236.4" x2="736.80" y2="240.4" stroke="#777" stroke-width="0.9"/>
<line x1="767.20" y1="236.4" x2="767.20" y2="240.4" stroke="#777" stroke-width="0.9"/>
<line x1="797.60" y1="236.4" x2="797.60" y2="240.4" stroke="#777" stroke-width="0.9"/>
<line x1="828.00" y1="236.4" x2="828.00" y2="240.4" stroke="#777" stroke-width="0.9"/>
<line x1="858.40" y1="236.4" x2="858.40" y2="240.4" stroke="#777" stroke-width="0.9"/>
<line x1="888.80" y1="236.4" x2="888.80" y2="240.4" stroke="#777" stroke-width="0.9"/>
<line x1="936.0" y1="20.3" x2="936.0" y2="236.3" stroke="#bdbdbd" stroke-width="1.2"/>
<line x1="1198.8" y1="20.3" x2="1198.8" y2="236.3" stroke="#a8a8a8" stroke-width="1.2"/>
<line x1="935.4" y1="20.3" x2="1199.3999999999999" y2="20.3" stroke="#5c5c5c" stroke-width="1.5"/>
<path d="M945.40,235.70 C947.56,235.61 954.92,235.83 958.39,235.18 C961.85,234.53 962.94,234.09 966.19,231.80 C969.43,229.50 974.63,225.30 977.88,221.40 C981.13,217.51 982.99,214.08 985.68,208.41 C988.36,202.74 991.61,194.07 993.99,187.36 C996.37,180.65 998.37,173.80 999.97,168.13 C1001.57,162.45 1002.05,160.72 1003.61,153.32 C1005.17,145.91 1007.03,133.96 1009.32,123.69 C1011.62,113.43 1014.65,100.91 1017.38,91.73 C1020.11,82.54 1022.88,73.88 1025.70,68.60 C1028.51,63.31 1031.89,62.84 1034.27,60.02 C1036.65,57.21 1038.60,54.48 1039.99,51.70 C1041.38,48.93 1041.72,45.86 1042.59,43.39 C1043.45,40.92 1044.23,38.80 1045.19,36.89 C1046.14,34.99 1047.40,32.95 1048.31,31.95 C1049.22,30.96 1049.60,30.31 1050.64,30.91 C1051.68,31.52 1053.24,32.65 1054.54,35.59 C1055.84,38.54 1057.14,43.82 1058.44,48.59 C1059.74,53.35 1061.04,58.55 1062.34,64.18 C1063.64,69.81 1064.94,76.31 1066.24,82.37 C1067.54,88.43 1068.40,94.93 1070.14,100.56 C1071.87,106.19 1074.47,110.96 1076.63,116.15 C1078.80,121.35 1080.75,125.68 1083.13,131.75 C1085.51,137.81 1088.33,145.17 1090.93,152.54 C1093.52,159.90 1096.56,169.43 1098.72,175.93 C1100.89,182.42 1102.19,186.75 1103.92,191.52 C1105.65,196.28 1107.38,200.18 1109.12,204.51 C1110.85,208.84 1112.58,214.04 1114.31,217.51 C1116.05,220.97 1117.35,223.14 1119.51,225.30 C1121.68,227.47 1124.71,229.20 1127.31,230.50 C1129.91,231.80 1132.51,232.45 1135.10,233.10 C1137.70,233.75 1140.30,234.05 1142.90,234.40 C1145.50,234.74 1147.66,235.13 1150.70,235.18 C1153.73,235.22 1158.06,234.74 1161.09,234.66 C1164.12,234.57 1165.86,234.57 1168.89,234.66 C1171.92,234.74 1175.38,235.00 1179.28,235.18 C1183.18,235.35 1190.11,235.61 1192.28,235.70 L1192.28,236.3 L945.40,236.3 Z" fill="#0000ff" fill-opacity="0.25"/>
<g transform="translate(600.0,0) scale(0.55,1) translate(-600.0,0)"><path d="M1227.99,235.70 C1231.93,235.61 1245.32,235.83 1251.62,235.18 C1257.92,234.53 1259.88,234.09 1265.79,231.80 C1271.70,229.50 1281.15,225.30 1287.05,221.40 C1292.96,217.51 1296.35,214.08 1301.23,208.41 C1306.11,202.74 1312.02,194.07 1316.35,187.36 C1320.68,180.65 1324.30,173.80 1327.22,168.13 C1330.13,162.45 1331.00,160.72 1333.83,153.32 C1336.67,145.91 1340.05,133.96 1344.23,123.69 C1348.40,113.43 1353.91,100.91 1358.87,91.73 C1363.83,82.54 1368.87,73.88 1373.99,68.60 C1379.11,63.31 1385.25,62.84 1389.59,60.02 C1393.92,57.21 1397.46,54.48 1399.98,51.70 C1402.50,48.93 1403.13,45.86 1404.71,43.39 C1406.28,40.92 1407.70,38.80 1409.43,36.89 C1411.16,34.99 1413.45,32.95 1415.10,31.95 C1416.75,30.96 1417.46,30.31 1419.35,30.91 C1421.24,31.52 1424.08,32.65 1426.44,35.59 C1428.80,38.54 1431.17,43.82 1433.53,48.59 C1435.89,53.35 1438.25,58.55 1440.62,64.18 C1442.98,69.81 1445.34,76.31 1447.70,82.37 C1450.07,88.43 1451.64,94.93 1454.79,100.56 C1457.94,106.19 1462.67,110.96 1466.60,116.15 C1470.54,121.35 1474.08,125.68 1478.42,131.75 C1482.75,137.81 1487.87,145.17 1492.59,152.54 C1497.32,159.90 1502.83,169.43 1506.77,175.93 C1510.70,182.42 1513.07,186.75 1516.22,191.52 C1519.37,196.28 1522.52,200.18 1525.67,204.51 C1528.82,208.84 1531.97,214.04 1535.12,217.51 C1538.27,220.97 1540.63,223.14 1544.57,225.30 C1548.50,227.47 1554.02,229.20 1558.74,230.50 C1563.47,231.80 1568.19,232.45 1572.92,233.10 C1577.64,233.75 1582.37,234.05 1587.09,234.40 C1591.82,234.74 1595.75,235.13 1601.27,235.18 C1606.78,235.22 1614.65,234.74 1620.17,234.66 C1625.68,234.57 1628.83,234.57 1634.34,234.66 C1639.85,234.74 1646.15,235.00 1653.24,235.18 C1660.33,235.35 1672.93,235.61 1676.87,235.70" fill="none" stroke="#3b3bff" stroke-width="1.45"/></g>
<path d="M950.59,235.70 C952.33,235.61 957.96,235.96 960.99,235.18 C964.02,234.40 966.49,233.31 968.78,231.02 C971.08,228.72 972.60,225.60 974.76,221.40 C976.93,217.20 979.27,211.48 981.78,205.81 C984.29,200.14 987.23,193.42 989.83,187.36 C992.43,181.30 995.07,175.10 997.37,169.43 C999.67,163.75 1000.58,160.94 1003.61,153.32 C1006.64,145.69 1012.23,133.96 1015.56,123.69 C1018.90,113.43 1021.63,100.91 1023.62,91.73 C1025.61,82.54 1026.43,73.88 1027.52,68.60 C1028.60,63.31 1028.86,63.10 1030.11,60.02 C1031.37,56.95 1033.41,53.18 1035.05,50.15 C1036.70,47.11 1038.73,43.56 1039.99,41.83 C1041.25,40.10 1041.68,40.05 1042.59,39.75 C1043.50,39.45 1044.10,39.40 1045.45,40.01 C1046.79,40.62 1048.70,41.74 1050.64,43.39 C1052.59,45.03 1055.19,46.85 1057.14,49.89 C1059.09,52.92 1060.61,57.47 1062.34,61.58 C1064.07,65.69 1065.80,69.38 1067.54,74.57 C1069.27,79.77 1071.00,86.70 1072.73,92.77 C1074.47,98.83 1075.98,104.03 1077.93,110.96 C1079.88,117.89 1082.26,126.55 1084.43,134.35 C1086.59,142.14 1088.54,150.37 1090.93,157.73 C1093.31,165.10 1096.12,172.03 1098.72,178.52 C1101.32,185.02 1103.92,190.65 1106.52,196.72 C1109.12,202.78 1111.72,209.93 1114.31,214.91 C1116.91,219.89 1119.51,223.79 1122.11,226.60 C1124.71,229.42 1126.87,230.46 1129.91,231.80 C1132.94,233.14 1136.84,234.01 1140.30,234.66 C1143.77,235.31 1148.96,235.52 1150.70,235.70 L1150.70,236.3 L950.59,236.3 Z" fill="#ffa500" fill-opacity="0.25"/>
<g transform="translate(600.0,0) scale(0.55,1) translate(-600.0,0)"><path d="M1237.44,235.70 C1240.59,235.61 1250.83,235.96 1256.34,235.18 C1261.85,234.40 1266.34,233.31 1270.52,231.02 C1274.69,228.72 1277.45,225.60 1281.38,221.40 C1285.32,217.20 1289.57,211.48 1294.14,205.81 C1298.71,200.14 1304.06,193.42 1308.79,187.36 C1313.51,181.30 1318.32,175.10 1322.49,169.43 C1326.66,163.75 1328.32,160.94 1333.83,153.32 C1339.34,145.69 1349.50,133.96 1355.57,123.69 C1361.63,113.43 1366.59,100.91 1370.21,91.73 C1373.84,82.54 1375.33,73.88 1377.30,68.60 C1379.27,63.31 1379.74,63.10 1382.03,60.02 C1384.31,56.95 1388.01,53.18 1391.00,50.15 C1394.00,47.11 1397.70,43.56 1399.98,41.83 C1402.26,40.10 1403.05,40.05 1404.71,39.75 C1406.36,39.45 1407.46,39.40 1409.90,40.01 C1412.34,40.62 1415.81,41.74 1419.35,43.39 C1422.90,45.03 1427.62,46.85 1431.17,49.89 C1434.71,52.92 1437.47,57.47 1440.62,61.58 C1443.77,65.69 1446.92,69.38 1450.07,74.57 C1453.22,79.77 1456.37,86.70 1459.52,92.77 C1462.67,98.83 1465.42,104.03 1468.97,110.96 C1472.51,117.89 1476.84,126.55 1480.78,134.35 C1484.72,142.14 1488.26,150.37 1492.59,157.73 C1496.92,165.10 1502.04,172.03 1506.77,178.52 C1511.49,185.02 1516.22,190.65 1520.94,196.72 C1525.67,202.78 1530.39,209.93 1535.12,214.91 C1539.84,219.89 1544.57,223.79 1549.29,226.60 C1554.02,229.42 1557.95,230.46 1563.47,231.80 C1568.98,233.14 1576.07,234.01 1582.37,234.66 C1588.67,235.31 1598.12,235.52 1601.27,235.70" fill="none" stroke="#f8a51c" stroke-width="1.4" stroke-dasharray="3.2,2.2"/></g>
<line x1="935.4" y1="236.3" x2="1199.3999999999999" y2="236.3" stroke="#3a3a3a" stroke-width="1.4"/>
<rect x="1139.0" y="26.5" width="57.200000000000045" height="41.0" rx="1.5" fill="#ffffff" fill-opacity="0.8" stroke="#e2e2e2" stroke-width="0.9"/>
<rect x="1141.3" y="33.0" width="10.2" height="9.4" fill="#c8c8ff" stroke="#2020ff" stroke-width="1.5"/>
<rect x="1141.3" y="51.3" width="10.2" height="9.4" fill="#ffe6c0" stroke="#ffa500" stroke-width="1.5" stroke-dasharray="2,1.3"/>
<line x1="934.0" y1="236.30" x2="936.0" y2="236.30" stroke="#444" stroke-width="1.1"/>
<line x1="934.0" y1="205.83" x2="936.0" y2="205.83" stroke="#444" stroke-width="1.1"/>
<line x1="934.0" y1="175.36" x2="936.0" y2="175.36" stroke="#444" stroke-width="1.1"/>
<line x1="934.0" y1="144.89" x2="936.0" y2="144.89" stroke="#444" stroke-width="1.1"/>
<line x1="934.0" y1="114.42" x2="936.0" y2="114.42" stroke="#444" stroke-width="1.1"/>
<line x1="934.0" y1="83.95" x2="936.0" y2="83.95" stroke="#444" stroke-width="1.1"/>
<line x1="934.0" y1="53.48" x2="936.0" y2="53.48" stroke="#444" stroke-width="1.1"/>
<line x1="934.0" y1="23.01" x2="936.0" y2="23.01" stroke="#444" stroke-width="1.1"/>
<line x1="944.20" y1="236.3" x2="944.20" y2="240.3" stroke="#777" stroke-width="0.9"/>
<line x1="996.10" y1="236.3" x2="996.10" y2="240.3" stroke="#777" stroke-width="0.9"/>
<line x1="1048.00" y1="236.3" x2="1048.00" y2="240.3" stroke="#777" stroke-width="0.9"/>
<line x1="1099.90" y1="236.3" x2="1099.90" y2="240.3" stroke="#777" stroke-width="0.9"/>
<line x1="1151.80" y1="236.3" x2="1151.80" y2="240.3" stroke="#777" stroke-width="0.9"/>
<line x1="638.3" y1="305.9" x2="638.3" y2="521.8" stroke="#6e6e6e" stroke-width="1.2"/>
<line x1="901.0" y1="305.9" x2="901.0" y2="521.8" stroke="#a8a8a8" stroke-width="1.2"/>
<line x1="637.6999999999999" y1="305.9" x2="901.6" y2="305.9" stroke="#5c5c5c" stroke-width="1.5"/>
<path d="M652.29,521.00 C654.24,520.91 660.74,520.91 663.99,520.48 C667.24,520.04 669.19,519.61 671.78,518.40 C674.38,517.18 676.98,515.58 679.58,513.20 C682.18,510.82 684.99,507.79 687.38,504.10 C689.76,500.42 691.71,496.31 693.87,491.11 C696.04,485.91 698.20,478.98 700.37,472.92 C702.54,466.86 704.70,460.36 706.87,454.73 C709.03,449.10 710.98,444.77 713.36,439.14 C715.75,433.50 718.78,427.44 721.16,420.94 C723.54,414.45 725.71,406.65 727.66,400.15 C729.61,393.66 731.12,388.46 732.85,381.96 C734.59,375.47 736.54,367.24 738.05,361.17 C739.57,355.11 740.65,349.91 741.95,345.58 C743.25,341.25 744.55,338.00 745.85,335.19 C747.15,332.37 748.23,330.64 749.75,328.69 C751.26,326.74 753.21,325.22 754.94,323.49 C756.68,321.76 758.50,319.46 760.14,318.29 C761.79,317.12 763.52,316.60 764.82,316.47 C766.12,316.34 766.77,316.34 767.94,317.51 C769.11,318.68 770.54,320.98 771.84,323.49 C773.14,326.00 774.22,328.47 775.73,332.59 C777.25,336.70 779.20,342.55 780.93,348.18 C782.66,353.81 784.40,360.31 786.13,366.37 C787.86,372.43 789.59,378.93 791.33,384.56 C793.06,390.19 794.79,394.52 796.52,400.15 C798.26,405.78 799.99,412.28 801.72,418.35 C803.45,424.41 805.19,430.91 806.92,436.54 C808.65,442.17 810.38,447.36 812.12,452.13 C813.85,456.89 815.58,460.36 817.31,465.12 C819.05,469.89 820.78,475.95 822.51,480.72 C824.24,485.48 825.98,489.81 827.71,493.71 C829.44,497.61 830.96,501.07 832.91,504.10 C834.86,507.14 837.24,509.95 839.40,511.90 C841.57,513.85 843.52,514.85 845.90,515.80 C848.28,516.75 851.10,517.14 853.70,517.62 C856.30,518.09 859.11,518.31 861.49,518.66 C863.87,519.00 866.04,519.31 867.99,519.70 C869.94,520.09 872.32,520.78 873.19,521.00 L873.19,521.8 L652.29,521.8 Z" fill="#0000ff" fill-opacity="0.25"/>
<g transform="translate(600.0,0) scale(0.55,1) translate(-600.0,0)"><path d="M695.08,521.00 C698.62,520.91 710.43,520.91 716.34,520.48 C722.25,520.04 725.79,519.61 730.52,518.40 C735.24,517.18 739.97,515.58 744.69,513.20 C749.42,510.82 754.53,507.79 758.87,504.10 C763.20,500.42 766.74,496.31 770.68,491.11 C774.62,485.91 778.55,478.98 782.49,472.92 C786.43,466.86 790.37,460.36 794.30,454.73 C798.24,449.10 801.78,444.77 806.12,439.14 C810.45,433.50 815.96,427.44 820.29,420.94 C824.62,414.45 828.56,406.65 832.10,400.15 C835.65,393.66 838.40,388.46 841.55,381.96 C844.70,375.47 848.25,367.24 851.00,361.17 C853.76,355.11 855.73,349.91 858.09,345.58 C860.45,341.25 862.82,338.00 865.18,335.19 C867.54,332.37 869.51,330.64 872.27,328.69 C875.02,326.74 878.57,325.22 881.72,323.49 C884.87,321.76 888.17,319.46 891.17,318.29 C894.16,317.12 897.31,316.60 899.67,316.47 C902.03,316.34 903.21,316.34 905.34,317.51 C907.47,318.68 910.07,320.98 912.43,323.49 C914.79,326.00 916.76,328.47 919.52,332.59 C922.27,336.70 925.82,342.55 928.97,348.18 C932.12,353.81 935.27,360.31 938.42,366.37 C941.57,372.43 944.72,378.93 947.87,384.56 C951.02,390.19 954.17,394.52 957.32,400.15 C960.47,405.78 963.62,412.28 966.77,418.35 C969.92,424.41 973.07,430.91 976.22,436.54 C979.37,442.17 982.52,447.36 985.67,452.13 C988.82,456.89 991.97,460.36 995.12,465.12 C998.27,469.89 1001.42,475.95 1004.57,480.72 C1007.72,485.48 1010.87,489.81 1014.02,493.71 C1017.17,497.61 1019.92,501.07 1023.47,504.10 C1027.01,507.14 1031.34,509.95 1035.28,511.90 C1039.22,513.85 1042.76,514.85 1047.09,515.80 C1051.42,516.75 1056.54,517.14 1061.27,517.62 C1065.99,518.09 1071.11,518.31 1075.44,518.66 C1079.77,519.00 1083.71,519.31 1087.25,519.70 C1090.80,520.09 1095.13,520.78 1096.70,521.00" fill="none" stroke="#3b3bff" stroke-width="1.45"/></g>
<path d="M652.29,521.00 C654.03,520.91 659.87,520.91 662.69,520.48 C665.50,520.04 666.80,519.61 669.19,518.40 C671.57,517.18 674.38,515.58 676.98,513.20 C679.58,510.82 682.18,507.57 684.78,504.10 C687.38,500.64 689.98,497.17 692.57,492.41 C695.17,487.65 697.99,481.36 700.37,475.52 C702.75,469.67 704.70,463.39 706.87,457.33 C709.03,451.26 710.98,445.20 713.36,439.14 C715.75,433.07 718.78,427.44 721.16,420.94 C723.54,414.45 725.49,405.78 727.66,400.15 C729.82,394.52 732.20,391.06 734.15,387.16 C736.10,383.26 737.62,381.53 739.35,376.77 C741.08,372.00 742.82,364.64 744.55,358.57 C746.28,352.51 748.01,345.58 749.75,340.38 C751.48,335.19 753.21,330.94 754.94,327.39 C756.68,323.84 758.50,320.98 760.14,319.07 C761.79,317.17 763.52,316.39 764.82,315.95 C766.12,315.52 766.55,315.43 767.94,316.47 C769.32,317.51 771.19,318.64 773.14,322.19 C775.08,325.74 777.47,332.15 779.63,337.78 C781.80,343.41 783.75,349.05 786.13,355.98 C788.51,362.91 791.33,370.70 793.93,379.36 C796.52,388.03 799.12,397.99 801.72,407.95 C804.32,417.91 807.35,430.47 809.52,439.14 C811.68,447.80 812.98,453.86 814.72,459.93 C816.45,465.99 818.18,470.32 819.91,475.52 C821.65,480.72 823.16,486.78 825.11,491.11 C827.06,495.44 829.44,499.12 831.61,501.51 C833.77,503.89 835.72,503.89 838.10,505.40 C840.49,506.92 843.73,509.00 845.90,510.60 C848.07,512.20 848.93,513.72 851.10,515.02 C853.26,516.32 856.30,517.62 858.89,518.40 C861.49,519.18 863.87,519.31 866.69,519.70 C869.51,520.09 872.97,520.48 875.79,520.74 C878.60,521.00 882.28,521.17 883.58,521.26 L883.58,521.8 L652.29,521.8 Z" fill="#ffa500" fill-opacity="0.25"/>
<g transform="translate(600.0,0) scale(0.55,1) translate(-600.0,0)"><path d="M695.08,521.00 C698.23,520.91 708.86,520.91 713.98,520.48 C719.10,520.04 721.46,519.61 725.79,518.40 C730.12,517.18 735.24,515.58 739.97,513.20 C744.69,510.82 749.42,507.57 754.14,504.10 C758.87,500.64 763.59,497.17 768.32,492.41 C773.04,487.65 778.16,481.36 782.49,475.52 C786.82,469.67 790.37,463.39 794.30,457.33 C798.24,451.26 801.78,445.20 806.12,439.14 C810.45,433.07 815.96,427.44 820.29,420.94 C824.62,414.45 828.17,405.78 832.10,400.15 C836.04,394.52 840.37,391.06 843.92,387.16 C847.46,383.26 850.22,381.53 853.37,376.77 C856.52,372.00 859.67,364.64 862.82,358.57 C865.97,352.51 869.12,345.58 872.27,340.38 C875.42,335.19 878.57,330.94 881.72,327.39 C884.87,323.84 888.17,320.98 891.17,319.07 C894.16,317.17 897.31,316.39 899.67,315.95 C902.03,315.52 902.82,315.43 905.34,316.47 C907.86,317.51 911.25,318.64 914.79,322.19 C918.33,325.74 922.67,332.15 926.60,337.78 C930.54,343.41 934.08,349.05 938.42,355.98 C942.75,362.91 947.87,370.70 952.59,379.36 C957.32,388.03 962.04,397.99 966.77,407.95 C971.49,417.91 977.00,430.47 980.94,439.14 C984.88,447.80 987.24,453.86 990.39,459.93 C993.54,465.99 996.69,470.32 999.84,475.52 C1002.99,480.72 1005.75,486.78 1009.29,491.11 C1012.84,495.44 1017.17,499.12 1021.10,501.51 C1025.04,503.89 1028.59,503.89 1032.92,505.40 C1037.25,506.92 1043.15,509.00 1047.09,510.60 C1051.03,512.20 1052.60,513.72 1056.54,515.02 C1060.48,516.32 1065.99,517.62 1070.72,518.40 C1075.44,519.18 1079.77,519.31 1084.89,519.70 C1090.01,520.09 1096.31,520.48 1101.43,520.74 C1106.55,521.00 1113.24,521.17 1115.60,521.26" fill="none" stroke="#f8a51c" stroke-width="1.4" stroke-dasharray="3.2,2.2"/></g>
<line x1="637.6999999999999" y1="521.8" x2="901.6" y2="521.8" stroke="#3a3a3a" stroke-width="1.4"/>
<rect x="841.5" y="312.0" width="57.0" height="41.19999999999999" rx="1.5" fill="#ffffff" fill-opacity="0.8" stroke="#e2e2e2" stroke-width="0.9"/>
<rect x="843.8" y="318.5" width="10.2" height="9.4" fill="#c8c8ff" stroke="#2020ff" stroke-width="1.5"/>
<rect x="843.8" y="336.8" width="10.2" height="9.4" fill="#ffe6c0" stroke="#ffa500" stroke-width="1.5" stroke-dasharray="2,1.3"/>
<line x1="636.3" y1="521.70" x2="638.3" y2="521.70" stroke="#444" stroke-width="1.1"/>
<line x1="636.3" y1="489.48" x2="638.3" y2="489.48" stroke="#444" stroke-width="1.1"/>
<line x1="636.3" y1="457.26" x2="638.3" y2="457.26" stroke="#444" stroke-width="1.1"/>
<line x1="636.3" y1="425.04" x2="638.3" y2="425.04" stroke="#444" stroke-width="1.1"/>
<line x1="636.3" y1="392.82" x2="638.3" y2="392.82" stroke="#444" stroke-width="1.1"/>
<line x1="636.3" y1="360.60" x2="638.3" y2="360.60" stroke="#444" stroke-width="1.1"/>
<line x1="636.3" y1="328.38" x2="638.3" y2="328.38" stroke="#444" stroke-width="1.1"/>
<line x1="652.20" y1="521.8" x2="652.20" y2="525.8" stroke="#777" stroke-width="0.9"/>
<line x1="706.80" y1="521.8" x2="706.80" y2="525.8" stroke="#777" stroke-width="0.9"/>
<line x1="761.40" y1="521.8" x2="761.40" y2="525.8" stroke="#777" stroke-width="0.9"/>
<line x1="816.00" y1="521.8" x2="816.00" y2="525.8" stroke="#777" stroke-width="0.9"/>
<line x1="870.60" y1="521.8" x2="870.60" y2="525.8" stroke="#777" stroke-width="0.9"/>
<line x1="936.0" y1="305.9" x2="936.0" y2="521.8" stroke="#bdbdbd" stroke-width="1.2"/>
<line x1="1198.8" y1="305.9" x2="1198.8" y2="521.8" stroke="#a8a8a8" stroke-width="1.2"/>
<line x1="935.4" y1="305.9" x2="1199.3999999999999" y2="305.9" stroke="#5c5c5c" stroke-width="1.5"/>
<path d="M953.19,521.00 C955.36,520.91 962.59,520.69 966.19,520.48 C969.78,520.26 971.38,520.35 974.76,519.70 C978.14,519.05 983.03,517.62 986.46,516.58 C989.88,515.54 992.82,514.33 995.29,513.46 C997.76,512.59 999.28,512.59 1001.27,511.38 C1003.26,510.17 1005.30,508.52 1007.25,506.18 C1009.19,503.84 1011.01,500.81 1012.96,497.35 C1014.91,493.88 1016.95,490.55 1018.94,485.39 C1020.93,480.24 1022.71,472.53 1024.92,466.42 C1027.13,460.31 1029.98,454.42 1032.19,448.75 C1034.40,443.08 1036.44,438.05 1038.17,432.38 C1039.90,426.70 1041.33,420.12 1042.59,414.71 C1043.84,409.29 1044.67,405.35 1045.71,399.89 C1046.75,394.44 1047.79,388.42 1048.83,381.96 C1049.86,375.51 1050.47,368.62 1051.94,361.17 C1053.42,353.72 1055.76,343.85 1057.66,337.26 C1059.57,330.68 1061.56,325.18 1063.38,321.67 C1065.20,318.16 1067.02,317.08 1068.58,316.21 C1070.14,315.35 1071.39,315.74 1072.73,316.47 C1074.08,317.21 1075.16,317.51 1076.63,320.63 C1078.10,323.75 1079.92,329.73 1081.57,335.19 C1083.22,340.64 1084.82,346.45 1086.51,353.38 C1088.20,360.31 1089.80,369.40 1091.70,376.77 C1093.61,384.13 1095.91,390.63 1097.94,397.56 C1099.98,404.49 1102.06,411.42 1103.92,418.35 C1105.78,425.28 1107.38,432.21 1109.12,439.14 C1110.85,446.07 1112.58,453.43 1114.31,459.93 C1116.05,466.42 1117.56,472.92 1119.51,478.12 C1121.46,483.31 1123.84,487.21 1126.01,491.11 C1128.17,495.01 1130.12,498.26 1132.51,501.51 C1134.89,504.75 1137.70,508.22 1140.30,510.60 C1142.90,512.98 1145.07,514.37 1148.10,515.80 C1151.13,517.23 1155.03,518.40 1158.49,519.18 C1161.96,519.96 1165.42,520.17 1168.89,520.48 C1172.35,520.78 1177.55,520.91 1179.28,521.00 L1179.28,521.8 L953.19,521.8 Z" fill="#0000ff" fill-opacity="0.25"/>
<g transform="translate(600.0,0) scale(0.55,1) translate(-600.0,0)"><path d="M1242.17,521.00 C1246.10,520.91 1259.25,520.69 1265.79,520.48 C1272.33,520.26 1275.24,520.35 1281.38,519.70 C1287.53,519.05 1296.42,517.62 1302.65,516.58 C1308.87,515.54 1314.22,514.33 1318.71,513.46 C1323.20,512.59 1325.96,512.59 1329.58,511.38 C1333.20,510.17 1336.90,508.52 1340.45,506.18 C1343.99,503.84 1347.30,500.81 1350.84,497.35 C1354.38,493.88 1358.09,490.55 1361.71,485.39 C1365.33,480.24 1368.56,472.53 1372.58,466.42 C1376.59,460.31 1381.79,454.42 1385.81,448.75 C1389.82,443.08 1393.52,438.05 1396.67,432.38 C1399.82,426.70 1402.42,420.12 1404.71,414.71 C1406.99,409.29 1408.49,405.35 1410.38,399.89 C1412.27,394.44 1414.16,388.42 1416.05,381.96 C1417.94,375.51 1419.04,368.62 1421.72,361.17 C1424.39,353.72 1428.65,343.85 1432.11,337.26 C1435.58,330.68 1439.20,325.18 1442.51,321.67 C1445.81,318.16 1449.12,317.08 1451.96,316.21 C1454.79,315.35 1457.07,315.74 1459.52,316.47 C1461.96,317.21 1463.93,317.51 1466.60,320.63 C1469.28,323.75 1472.59,329.73 1475.58,335.19 C1478.57,340.64 1481.49,346.45 1484.56,353.38 C1487.63,360.31 1490.54,369.40 1494.01,376.77 C1497.47,384.13 1501.65,390.63 1505.35,397.56 C1509.05,404.49 1512.83,411.42 1516.22,418.35 C1519.60,425.28 1522.52,432.21 1525.67,439.14 C1528.82,446.07 1531.97,453.43 1535.12,459.93 C1538.27,466.42 1541.02,472.92 1544.57,478.12 C1548.11,483.31 1552.44,487.21 1556.38,491.11 C1560.32,495.01 1563.86,498.26 1568.19,501.51 C1572.52,504.75 1577.64,508.22 1582.37,510.60 C1587.09,512.98 1591.03,514.37 1596.54,515.80 C1602.05,517.23 1609.14,518.40 1615.44,519.18 C1621.74,519.96 1628.04,520.17 1634.34,520.48 C1640.64,520.78 1650.09,520.91 1653.24,521.00" fill="none" stroke="#3b3bff" stroke-width="1.45"/></g>
<path d="M953.19,521.00 C955.36,520.87 962.11,520.61 966.19,520.22 C970.26,519.83 973.72,519.91 977.62,518.66 C981.52,517.40 986.11,514.63 989.57,512.68 C993.04,510.73 995.98,508.78 998.41,506.96 C1000.84,505.14 1002.18,504.10 1004.13,501.77 C1006.08,499.43 1008.11,496.35 1010.10,492.93 C1012.10,489.51 1014.13,484.92 1016.08,481.23 C1018.03,477.55 1019.85,474.56 1021.80,470.84 C1023.75,467.12 1025.78,463.09 1027.78,458.89 C1029.77,454.68 1031.80,450.79 1033.75,445.63 C1035.70,440.48 1037.74,433.59 1039.47,427.96 C1041.20,422.33 1042.85,416.53 1044.15,411.85 C1045.45,407.17 1045.97,406.82 1047.27,399.89 C1048.57,392.96 1050.30,379.32 1051.94,370.27 C1053.59,361.22 1055.32,352.81 1057.14,345.58 C1058.96,338.35 1061.00,331.33 1062.86,326.87 C1064.72,322.41 1066.71,320.37 1068.32,318.81 C1069.92,317.25 1070.91,316.60 1072.47,317.51 C1074.03,318.42 1075.94,320.98 1077.67,324.27 C1079.40,327.56 1081.14,332.07 1082.87,337.26 C1084.60,342.46 1086.33,348.96 1088.07,355.46 C1089.80,361.95 1091.53,369.32 1093.26,376.25 C1095.00,383.18 1096.56,390.02 1098.46,397.04 C1100.37,404.05 1102.71,411.33 1104.70,418.35 C1106.69,425.36 1108.38,431.77 1110.42,439.14 C1112.45,446.50 1114.96,455.59 1116.91,462.52 C1118.86,469.45 1119.94,475.08 1122.11,480.72 C1124.28,486.35 1127.31,492.19 1129.91,496.31 C1132.51,500.42 1135.10,502.80 1137.70,505.40 C1140.30,508.00 1142.90,510.17 1145.50,511.90 C1148.10,513.63 1150.26,514.67 1153.30,515.80 C1156.33,516.92 1160.23,517.92 1163.69,518.66 C1167.16,519.39 1170.62,519.83 1174.09,520.22 C1177.55,520.61 1182.75,520.87 1184.48,521.00 L1184.48,521.8 L953.19,521.8 Z" fill="#ffa500" fill-opacity="0.25"/>
<g transform="translate(600.0,0) scale(0.55,1) translate(-600.0,0)"><path d="M1242.17,521.00 C1246.10,520.87 1258.39,520.61 1265.79,520.22 C1273.19,519.83 1279.49,519.91 1286.58,518.66 C1293.67,517.40 1302.02,514.63 1308.32,512.68 C1314.62,510.73 1319.97,508.78 1324.38,506.96 C1328.79,505.14 1331.23,504.10 1334.78,501.77 C1338.32,499.43 1342.02,496.35 1345.64,492.93 C1349.27,489.51 1352.97,484.92 1356.51,481.23 C1360.05,477.55 1363.36,474.56 1366.91,470.84 C1370.45,467.12 1374.15,463.09 1377.77,458.89 C1381.40,454.68 1385.10,450.79 1388.64,445.63 C1392.18,440.48 1395.89,433.59 1399.04,427.96 C1402.19,422.33 1405.18,416.53 1407.54,411.85 C1409.90,407.17 1410.85,406.82 1413.21,399.89 C1415.57,392.96 1418.72,379.32 1421.72,370.27 C1424.71,361.22 1427.86,352.81 1431.17,345.58 C1434.47,338.35 1438.17,331.33 1441.56,326.87 C1444.95,322.41 1448.57,320.37 1451.48,318.81 C1454.40,317.25 1456.21,316.60 1459.04,317.51 C1461.88,318.42 1465.34,320.98 1468.49,324.27 C1471.64,327.56 1474.79,332.07 1477.94,337.26 C1481.09,342.46 1484.24,348.96 1487.39,355.46 C1490.54,361.95 1493.69,369.32 1496.84,376.25 C1499.99,383.18 1502.83,390.02 1506.29,397.04 C1509.76,404.05 1514.01,411.33 1517.63,418.35 C1521.26,425.36 1524.33,431.77 1528.03,439.14 C1531.73,446.50 1536.30,455.59 1539.84,462.52 C1543.38,469.45 1545.35,475.08 1549.29,480.72 C1553.23,486.35 1558.74,492.19 1563.47,496.31 C1568.19,500.42 1572.92,502.80 1577.64,505.40 C1582.37,508.00 1587.09,510.17 1591.82,511.90 C1596.54,513.63 1600.48,514.67 1605.99,515.80 C1611.50,516.92 1618.59,517.92 1624.89,518.66 C1631.19,519.39 1637.49,519.83 1643.79,520.22 C1650.09,520.61 1659.54,520.87 1662.69,521.00" fill="none" stroke="#f8a51c" stroke-width="1.4" stroke-dasharray="3.2,2.2"/></g>
<line x1="935.4" y1="521.8" x2="1199.3999999999999" y2="521.8" stroke="#3a3a3a" stroke-width="1.4"/>
<rect x="1139.0" y="312.0" width="57.200000000000045" height="41.19999999999999" rx="1.5" fill="#ffffff" fill-opacity="0.8" stroke="#e2e2e2" stroke-width="0.9"/>
<rect x="1141.3" y="318.5" width="10.2" height="9.4" fill="#c8c8ff" stroke="#2020ff" stroke-width="1.5"/>
<rect x="1141.3" y="336.8" width="10.2" height="9.4" fill="#ffe6c0" stroke="#ffa500" stroke-width="1.5" stroke-dasharray="2,1.3"/>
<line x1="934.0" y1="521.70" x2="936.0" y2="521.70" stroke="#444" stroke-width="1.1"/>
<line x1="934.0" y1="472.95" x2="936.0" y2="472.95" stroke="#444" stroke-width="1.1"/>
<line x1="934.0" y1="424.20" x2="936.0" y2="424.20" stroke="#444" stroke-width="1.1"/>
<line x1="934.0" y1="375.45" x2="936.0" y2="375.45" stroke="#444" stroke-width="1.1"/>
<line x1="934.0" y1="326.70" x2="936.0" y2="326.70" stroke="#444" stroke-width="1.1"/>
<line x1="953.60" y1="521.8" x2="953.60" y2="525.8" stroke="#777" stroke-width="0.9"/>
<line x1="1011.77" y1="521.8" x2="1011.77" y2="525.8" stroke="#777" stroke-width="0.9"/>
<line x1="1069.94" y1="521.8" x2="1069.94" y2="525.8" stroke="#777" stroke-width="0.9"/>
<line x1="1128.11" y1="521.8" x2="1128.11" y2="525.8" stroke="#777" stroke-width="0.9"/>
<line x1="1186.28" y1="521.8" x2="1186.28" y2="525.8" stroke="#777" stroke-width="0.9"/>
<line x1="638.3" y1="591.3" x2="638.3" y2="807.6" stroke="#6e6e6e" stroke-width="1.2"/>
<line x1="901.0" y1="591.3" x2="901.0" y2="807.6" stroke="#a8a8a8" stroke-width="1.2"/>
<line x1="637.6999999999999" y1="591.3" x2="901.6" y2="591.3" stroke="#5c5c5c" stroke-width="1.5"/>
<path d="M650.99,806.78 C653.16,806.69 660.52,806.47 663.99,806.26 C667.45,806.04 669.19,806.08 671.78,805.48 C674.38,804.87 676.98,804.05 679.58,802.62 C682.18,801.19 684.78,798.72 687.38,796.90 C689.98,795.08 692.79,793.87 695.17,791.70 C697.55,789.54 699.50,787.80 701.67,783.91 C703.84,780.01 705.78,774.81 708.17,768.31 C710.55,761.82 713.58,752.29 715.96,744.93 C718.34,737.56 720.29,731.93 722.46,724.14 C724.63,716.34 726.79,706.81 728.96,698.15 C731.12,689.49 733.29,680.39 735.45,672.16 C737.62,663.93 740.00,655.70 741.95,648.77 C743.90,641.84 745.42,636.64 747.15,630.58 C748.88,624.52 750.61,616.94 752.35,612.39 C754.08,607.84 756.03,605.11 757.54,603.29 C759.06,601.47 760.14,601.47 761.44,601.47 C762.74,601.47 764.04,601.69 765.34,603.29 C766.64,604.90 767.89,607.41 769.24,611.09 C770.58,614.77 771.79,619.97 773.40,625.38 C775.00,630.80 777.03,636.64 778.85,643.57 C780.67,650.50 782.49,659.60 784.31,666.96 C786.13,674.33 787.99,681.26 789.77,687.75 C791.54,694.25 793.23,699.88 794.96,705.94 C796.70,712.01 798.43,718.50 800.16,724.14 C801.89,729.77 803.67,734.10 805.36,739.73 C807.05,745.36 808.22,751.86 810.30,757.92 C812.38,763.98 815.36,770.91 817.83,776.11 C820.30,781.31 822.60,785.64 825.11,789.10 C827.62,792.57 830.31,794.73 832.91,796.90 C835.51,799.07 838.10,800.80 840.70,802.10 C843.30,803.40 845.47,804.05 848.50,804.70 C851.53,805.35 855.00,805.69 858.89,806.00 C862.79,806.30 869.72,806.43 871.89,806.52 L871.89,807.6 L650.99,807.6 Z" fill="#0000ff" fill-opacity="0.25"/>
<g transform="translate(600.0,0) scale(0.55,1) translate(-600.0,0)"><path d="M692.72,806.78 C696.65,806.69 710.04,806.47 716.34,806.26 C722.64,806.04 725.79,806.08 730.52,805.48 C735.24,804.87 739.97,804.05 744.69,802.62 C749.42,801.19 754.14,798.72 758.87,796.90 C763.59,795.08 768.71,793.87 773.04,791.70 C777.37,789.54 780.92,787.80 784.85,783.91 C788.79,780.01 792.33,774.81 796.67,768.31 C801.00,761.82 806.51,752.29 810.84,744.93 C815.17,737.56 818.72,731.93 822.65,724.14 C826.59,716.34 830.53,706.81 834.47,698.15 C838.40,689.49 842.34,680.39 846.28,672.16 C850.22,663.93 854.55,655.70 858.09,648.77 C861.63,641.84 864.39,636.64 867.54,630.58 C870.69,624.52 873.84,616.94 876.99,612.39 C880.14,607.84 883.68,605.11 886.44,603.29 C889.20,601.47 891.17,601.47 893.53,601.47 C895.89,601.47 898.25,601.69 900.62,603.29 C902.98,604.90 905.26,607.41 907.70,611.09 C910.14,614.77 912.35,619.97 915.26,625.38 C918.18,630.80 921.88,636.64 925.19,643.57 C928.49,650.50 931.80,659.60 935.11,666.96 C938.42,674.33 941.80,681.26 945.03,687.75 C948.26,694.25 951.33,699.88 954.48,705.94 C957.63,712.01 960.78,718.50 963.93,724.14 C967.08,729.77 970.31,734.10 973.38,739.73 C976.45,745.36 978.58,751.86 982.36,757.92 C986.14,763.98 991.57,770.91 996.06,776.11 C1000.55,781.31 1004.72,785.64 1009.29,789.10 C1013.86,792.57 1018.74,794.73 1023.47,796.90 C1028.19,799.07 1032.92,800.80 1037.64,802.10 C1042.37,803.40 1046.30,804.05 1051.82,804.70 C1057.33,805.35 1063.63,805.69 1070.72,806.00 C1077.80,806.30 1090.40,806.43 1094.34,806.52" fill="none" stroke="#3b3bff" stroke-width="1.45"/></g>
<path d="M650.99,806.78 C653.16,806.69 660.09,806.69 663.99,806.26 C667.89,805.82 671.35,805.30 674.38,804.18 C677.41,803.05 679.58,801.58 682.18,799.50 C684.78,797.42 687.38,795.17 689.98,791.70 C692.57,788.24 695.17,783.47 697.77,778.71 C700.37,773.94 702.97,769.61 705.57,763.12 C708.17,756.62 710.77,747.09 713.36,739.73 C715.96,732.36 718.56,727.60 721.16,718.94 C723.76,710.28 726.57,697.28 728.96,687.75 C731.34,678.22 733.50,668.70 735.45,661.77 C737.40,654.84 739.13,650.29 740.65,646.17 C742.17,642.06 743.25,639.68 744.55,637.08 C745.85,634.48 746.93,632.31 748.45,630.58 C749.96,628.85 751.70,627.98 753.64,626.68 C755.59,625.38 758.19,624.39 760.14,622.78 C762.09,621.18 764.04,618.15 765.34,617.07 C766.64,615.98 766.85,615.33 767.94,616.29 C769.02,617.24 770.54,619.54 771.84,622.78 C773.14,626.03 774.22,630.58 775.73,635.78 C777.25,640.98 779.20,647.47 780.93,653.97 C782.66,660.47 784.40,667.40 786.13,674.76 C787.86,682.12 789.59,690.78 791.33,698.15 C793.06,705.51 794.57,712.44 796.52,718.94 C798.47,725.43 801.07,731.07 803.02,737.13 C804.97,743.19 806.27,749.26 808.22,755.32 C810.17,761.38 812.33,768.31 814.72,773.51 C817.10,778.71 819.91,782.82 822.51,786.51 C825.11,790.19 827.71,793.22 830.31,795.60 C832.91,797.98 835.51,799.37 838.10,800.80 C840.70,802.23 842.87,803.40 845.90,804.18 C848.93,804.96 853.26,805.30 856.30,805.48 C859.33,805.65 861.49,805.13 864.09,805.22 C866.69,805.30 867.99,805.74 871.89,806.00 C875.79,806.26 884.88,806.65 887.48,806.78 L887.48,807.6 L650.99,807.6 Z" fill="#ffa500" fill-opacity="0.25"/>
<g transform="translate(600.0,0) scale(0.55,1) translate(-600.0,0)"><path d="M692.72,806.78 C696.65,806.69 709.25,806.69 716.34,806.26 C723.43,805.82 729.73,805.30 735.24,804.18 C740.75,803.05 744.69,801.58 749.42,799.50 C754.14,797.42 758.87,795.17 763.59,791.70 C768.32,788.24 773.04,783.47 777.77,778.71 C782.49,773.94 787.22,769.61 791.94,763.12 C796.67,756.62 801.39,747.09 806.12,739.73 C810.84,732.36 815.57,727.60 820.29,718.94 C825.02,710.28 830.13,697.28 834.47,687.75 C838.80,678.22 842.73,668.70 846.28,661.77 C849.82,654.84 852.97,650.29 855.73,646.17 C858.48,642.06 860.45,639.68 862.82,637.08 C865.18,634.48 867.15,632.31 869.90,630.58 C872.66,628.85 875.81,627.98 879.35,626.68 C882.90,625.38 887.62,624.39 891.17,622.78 C894.71,621.18 898.25,618.15 900.62,617.07 C902.98,615.98 903.37,615.33 905.34,616.29 C907.31,617.24 910.07,619.54 912.43,622.78 C914.79,626.03 916.76,630.58 919.52,635.78 C922.27,640.98 925.82,647.47 928.97,653.97 C932.12,660.47 935.27,667.40 938.42,674.76 C941.57,682.12 944.72,690.78 947.87,698.15 C951.02,705.51 953.77,712.44 957.32,718.94 C960.86,725.43 965.58,731.07 969.13,737.13 C972.67,743.19 975.03,749.26 978.58,755.32 C982.12,761.38 986.06,768.31 990.39,773.51 C994.72,778.71 999.84,782.82 1004.57,786.51 C1009.29,790.19 1014.02,793.22 1018.74,795.60 C1023.47,797.98 1028.19,799.37 1032.92,800.80 C1037.64,802.23 1041.58,803.40 1047.09,804.18 C1052.60,804.96 1060.48,805.30 1065.99,805.48 C1071.50,805.65 1075.44,805.13 1080.17,805.22 C1084.89,805.30 1087.25,805.74 1094.34,806.00 C1101.43,806.26 1117.97,806.65 1122.69,806.78" fill="none" stroke="#f8a51c" stroke-width="1.4" stroke-dasharray="3.2,2.2"/></g>
<line x1="637.6999999999999" y1="807.6" x2="901.6" y2="807.6" stroke="#3a3a3a" stroke-width="1.4"/>
<rect x="841.5" y="597.0" width="57.0" height="41.200000000000045" rx="1.5" fill="#ffffff" fill-opacity="0.8" stroke="#e2e2e2" stroke-width="0.9"/>
<rect x="843.8" y="603.5" width="10.2" height="9.4" fill="#c8c8ff" stroke="#2020ff" stroke-width="1.5"/>
<rect x="843.8" y="621.8" width="10.2" height="9.4" fill="#ffe6c0" stroke="#ffa500" stroke-width="1.5" stroke-dasharray="2,1.3"/>
<line x1="636.3" y1="807.50" x2="638.3" y2="807.50" stroke="#444" stroke-width="1.1"/>
<line x1="636.3" y1="755.80" x2="638.3" y2="755.80" stroke="#444" stroke-width="1.1"/>
<line x1="636.3" y1="704.10" x2="638.3" y2="704.10" stroke="#444" stroke-width="1.1"/>
<line x1="636.3" y1="652.40" x2="638.3" y2="652.40" stroke="#444" stroke-width="1.1"/>
<line x1="636.3" y1="600.70" x2="638.3" y2="600.70" stroke="#444" stroke-width="1.1"/>
<line x1="651.00" y1="807.6" x2="651.00" y2="811.6" stroke="#777" stroke-width="0.9"/>
<line x1="686.90" y1="807.6" x2="686.90" y2="811.6" stroke="#777" stroke-width="0.9"/>
<line x1="722.80" y1="807.6" x2="722.80" y2="811.6" stroke="#777" stroke-width="0.9"/>
<line x1="758.70" y1="807.6" x2="758.70" y2="811.6" stroke="#777" stroke-width="0.9"/>
<line x1="794.60" y1="807.6" x2="794.60" y2="811.6" stroke="#777" stroke-width="0.9"/>
<line x1="830.50" y1="807.6" x2="830.50" y2="811.6" stroke="#777" stroke-width="0.9"/>
<line x1="866.40" y1="807.6" x2="866.40" y2="811.6" stroke="#777" stroke-width="0.9"/>
<g filter="url(#tb)">
<text x="246.70" y="41.20" font-size="12.3" textLength="37.72" lengthAdjust="spacingAndGlyphs" fill="#262626" >Synthetic Data</text>
<text x="20.01" y="241.75" font-size="12.3" textLength="3.09" lengthAdjust="spacingAndGlyphs" fill="#262626" >0</text>
<text x="20.01" y="193.16" font-size="12.3" textLength="3.09" lengthAdjust="spacingAndGlyphs" fill="#262626" >2</text>
<text x="20.01" y="144.57" font-size="12.3" textLength="3.09" lengthAdjust="spacingAndGlyphs" fill="#262626" >4</text>
<text x="20.01" y="95.98" font-size="12.3" textLength="3.09" lengthAdjust="spacingAndGlyphs" fill="#262626" >6</text>
<text x="20.01" y="47.39" font-size="12.3" textLength="3.09" lengthAdjust="spacingAndGlyphs" fill="#262626" >8</text>
<text x="23.88" y="256.10" font-size="12.3" textLength="15.43" lengthAdjust="spacingAndGlyphs" fill="#262626" >15000</text>
<text x="63.25" y="256.10" font-size="12.3" textLength="15.43" lengthAdjust="spacingAndGlyphs" fill="#262626" >20000</text>
<text x="102.62" y="256.10" font-size="12.3" textLength="15.43" lengthAdjust="spacingAndGlyphs" fill="#262626" >25000</text>
<text x="141.99" y="256.10" font-size="12.3" textLength="15.43" lengthAdjust="spacingAndGlyphs" fill="#262626" >30000</text>
<text x="181.36" y="256.10" font-size="12.3" textLength="15.43" lengthAdjust="spacingAndGlyphs" fill="#262626" >35000</text>
<text x="220.73" y="256.10" font-size="12.3" textLength="15.43" lengthAdjust="spacingAndGlyphs" fill="#262626" >40000</text>
<text x="260.10" y="256.10" font-size="12.3" textLength="15.43" lengthAdjust="spacingAndGlyphs" fill="#262626" >45000</text>
<text x="154.10" y="272.80" font-size="12.3" textLength="9.60" lengthAdjust="spacingAndGlyphs" fill="#262626" >BTC</text>
<text transform="translate(18.20,153.35) rotate(-90) scale(1,0.46)" x="0" y="0" font-size="12.8" textLength="43.8" lengthAdjust="spacingAndGlyphs" fill="#2a2a2a" style="stroke:#2a2a2a;stroke-width:0.5px">Density</text>
<text x="27.80" y="17.00" font-size="12.3" textLength="13.60" lengthAdjust="spacingAndGlyphs" fill="#262626" >1e−5</text>
<text x="97.44" y="13.40" font-size="14.2" textLength="122.92" lengthAdjust="spacingAndGlyphs" fill="#2e2e2e" >Marginal Distribution of BTC (Synthetic)</text>
<text x="544.70" y="41.20" font-size="12.3" textLength="37.72" lengthAdjust="spacingAndGlyphs" fill="#262626" >Synthetic Data</text>
<text x="304.13" y="242.50" font-size="12.3" textLength="16.97" lengthAdjust="spacingAndGlyphs" fill="#262626" >0.0000</text>
<text x="304.13" y="211.33" font-size="12.3" textLength="16.97" lengthAdjust="spacingAndGlyphs" fill="#262626" >0.0002</text>
<text x="304.13" y="180.16" font-size="12.3" textLength="16.97" lengthAdjust="spacingAndGlyphs" fill="#262626" >0.0004</text>
<text x="304.13" y="148.99" font-size="12.3" textLength="16.97" lengthAdjust="spacingAndGlyphs" fill="#262626" >0.0006</text>
<text x="304.13" y="117.82" font-size="12.3" textLength="16.97" lengthAdjust="spacingAndGlyphs" fill="#262626" >0.0008</text>
<text x="304.13" y="86.65" font-size="12.3" textLength="16.97" lengthAdjust="spacingAndGlyphs" fill="#262626" >0.0010</text>
<text x="304.13" y="55.48" font-size="12.3" textLength="16.97" lengthAdjust="spacingAndGlyphs" fill="#262626" >0.0012</text>
<text x="347.43" y="256.20" font-size="12.3" textLength="12.35" lengthAdjust="spacingAndGlyphs" fill="#262626" >1400</text>
<text x="379.06" y="256.20" font-size="12.3" textLength="12.35" lengthAdjust="spacingAndGlyphs" fill="#262626" >1600</text>
<text x="410.69" y="256.20" font-size="12.3" textLength="12.35" lengthAdjust="spacingAndGlyphs" fill="#262626" >1800</text>
<text x="442.32" y="256.20" font-size="12.3" textLength="12.35" lengthAdjust="spacingAndGlyphs" fill="#262626" >2000</text>
<text x="473.95" y="256.20" font-size="12.3" textLength="12.35" lengthAdjust="spacingAndGlyphs" fill="#262626" >2200</text>
<text x="505.58" y="256.20" font-size="12.3" textLength="12.35" lengthAdjust="spacingAndGlyphs" fill="#262626" >2400</text>
<text x="537.21" y="256.20" font-size="12.3" textLength="12.35" lengthAdjust="spacingAndGlyphs" fill="#262626" >2600</text>
<text x="568.84" y="256.20" font-size="12.3" textLength="12.35" lengthAdjust="spacingAndGlyphs" fill="#262626" >2800</text>
<text x="452.20" y="272.90" font-size="12.3" textLength="9.60" lengthAdjust="spacingAndGlyphs" fill="#262626" >ETH</text>
<text transform="translate(300.30,153.40) rotate(-90) scale(1,0.46)" x="0" y="0" font-size="12.8" textLength="43.8" lengthAdjust="spacingAndGlyphs" fill="#2a2a2a" style="stroke:#2a2a2a;stroke-width:0.5px">Density</text>
<text x="395.54" y="13.40" font-size="14.2" textLength="122.92" lengthAdjust="spacingAndGlyphs" fill="#2e2e2e" >Marginal Distribution of ETH (Synthetic)</text>
<text x="246.70" y="327.00" font-size="12.3" textLength="37.72" lengthAdjust="spacingAndGlyphs" fill="#262626" >Synthetic Data</text>
<text x="9.21" y="527.65" font-size="12.3" textLength="13.89" lengthAdjust="spacingAndGlyphs" fill="#262626" >0.000</text>
<text x="9.21" y="499.73" font-size="12.3" textLength="13.89" lengthAdjust="spacingAndGlyphs" fill="#262626" >0.002</text>
<text x="9.21" y="471.81" font-size="12.3" textLength="13.89" lengthAdjust="spacingAndGlyphs" fill="#262626" >0.004</text>
<text x="9.21" y="443.89" font-size="12.3" textLength="13.89" lengthAdjust="spacingAndGlyphs" fill="#262626" >0.006</text>
<text x="9.21" y="415.97" font-size="12.3" textLength="13.89" lengthAdjust="spacingAndGlyphs" fill="#262626" >0.008</text>
<text x="9.21" y="388.05" font-size="12.3" textLength="13.89" lengthAdjust="spacingAndGlyphs" fill="#262626" >0.010</text>
<text x="9.21" y="360.13" font-size="12.3" textLength="13.89" lengthAdjust="spacingAndGlyphs" fill="#262626" >0.012</text>
<text x="9.21" y="332.21" font-size="12.3" textLength="13.89" lengthAdjust="spacingAndGlyphs" fill="#262626" >0.014</text>
<text x="40.01" y="541.30" font-size="12.3" textLength="6.17" lengthAdjust="spacingAndGlyphs" fill="#262626" >75</text>
<text x="74.21" y="541.30" font-size="12.3" textLength="9.26" lengthAdjust="spacingAndGlyphs" fill="#262626" >100</text>
<text x="109.95" y="541.30" font-size="12.3" textLength="9.26" lengthAdjust="spacingAndGlyphs" fill="#262626" >125</text>
<text x="145.69" y="541.30" font-size="12.3" textLength="9.26" lengthAdjust="spacingAndGlyphs" fill="#262626" >150</text>
<text x="181.43" y="541.30" font-size="12.3" textLength="9.26" lengthAdjust="spacingAndGlyphs" fill="#262626" >175</text>
<text x="217.17" y="541.30" font-size="12.3" textLength="9.26" lengthAdjust="spacingAndGlyphs" fill="#262626" >200</text>
<text x="252.91" y="541.30" font-size="12.3" textLength="9.26" lengthAdjust="spacingAndGlyphs" fill="#262626" >225</text>
<text x="154.54" y="558.00" font-size="12.3" textLength="8.71" lengthAdjust="spacingAndGlyphs" fill="#262626" >LTC</text>
<text transform="translate(6.30,438.85) rotate(-90) scale(1,0.46)" x="0" y="0" font-size="12.8" textLength="43.8" lengthAdjust="spacingAndGlyphs" fill="#2a2a2a" style="stroke:#2a2a2a;stroke-width:0.5px">Density</text>
<text x="98.09" y="299.20" font-size="14.2" textLength="121.63" lengthAdjust="spacingAndGlyphs" fill="#2e2e2e" >Marginal Distribution of LTC (Synthetic)</text>
<text x="544.70" y="327.00" font-size="12.3" textLength="37.72" lengthAdjust="spacingAndGlyphs" fill="#262626" >Synthetic Data</text>
<text x="307.21" y="527.65" font-size="12.3" textLength="13.89" lengthAdjust="spacingAndGlyphs" fill="#262626" >0.000</text>
<text x="307.21" y="480.51" font-size="12.3" textLength="13.89" lengthAdjust="spacingAndGlyphs" fill="#262626" >0.002</text>
<text x="307.21" y="433.37" font-size="12.3" textLength="13.89" lengthAdjust="spacingAndGlyphs" fill="#262626" >0.004</text>
<text x="307.21" y="386.23" font-size="12.3" textLength="13.89" lengthAdjust="spacingAndGlyphs" fill="#262626" >0.006</text>
<text x="307.21" y="339.09" font-size="12.3" textLength="13.89" lengthAdjust="spacingAndGlyphs" fill="#262626" >0.008</text>
<text x="342.97" y="541.30" font-size="12.3" textLength="9.26" lengthAdjust="spacingAndGlyphs" fill="#262626" >250</text>
<text x="379.62" y="541.30" font-size="12.3" textLength="9.26" lengthAdjust="spacingAndGlyphs" fill="#262626" >300</text>
<text x="416.27" y="541.30" font-size="12.3" textLength="9.26" lengthAdjust="spacingAndGlyphs" fill="#262626" >350</text>
<text x="452.92" y="541.30" font-size="12.3" textLength="9.26" lengthAdjust="spacingAndGlyphs" fill="#262626" >400</text>
<text x="489.57" y="541.30" font-size="12.3" textLength="9.26" lengthAdjust="spacingAndGlyphs" fill="#262626" >450</text>
<text x="526.22" y="541.30" font-size="12.3" textLength="9.26" lengthAdjust="spacingAndGlyphs" fill="#262626" >500</text>
<text x="562.87" y="541.30" font-size="12.3" textLength="9.26" lengthAdjust="spacingAndGlyphs" fill="#262626" >550</text>
<text x="452.07" y="558.00" font-size="12.3" textLength="9.87" lengthAdjust="spacingAndGlyphs" fill="#262626" >CO2</text>
<text transform="translate(304.00,438.85) rotate(-90) scale(1,0.46)" x="0" y="0" font-size="12.8" textLength="43.8" lengthAdjust="spacingAndGlyphs" fill="#2a2a2a" style="stroke:#2a2a2a;stroke-width:0.5px">Density</text>
<text x="395.34" y="299.20" font-size="14.2" textLength="123.32" lengthAdjust="spacingAndGlyphs" fill="#2e2e2e" >Marginal Distribution of CO2 (Synthetic)</text>
<text x="246.70" y="612.20" font-size="12.3" textLength="37.72" lengthAdjust="spacingAndGlyphs" fill="#262626" >Synthetic Data</text>
<text x="9.21" y="813.80" font-size="12.3" textLength="13.89" lengthAdjust="spacingAndGlyphs" fill="#262626" >0.000</text>
<text x="9.21" y="763.97" font-size="12.3" textLength="13.89" lengthAdjust="spacingAndGlyphs" fill="#262626" >0.005</text>
<text x="9.21" y="714.14" font-size="12.3" textLength="13.89" lengthAdjust="spacingAndGlyphs" fill="#262626" >0.010</text>
<text x="9.21" y="664.31" font-size="12.3" textLength="13.89" lengthAdjust="spacingAndGlyphs" fill="#262626" >0.015</text>
<text x="9.21" y="614.48" font-size="12.3" textLength="13.89" lengthAdjust="spacingAndGlyphs" fill="#262626" >0.020</text>
<text x="35.81" y="827.40" font-size="12.3" textLength="6.17" lengthAdjust="spacingAndGlyphs" fill="#262626" >40</text>
<text x="71.21" y="827.40" font-size="12.3" textLength="6.17" lengthAdjust="spacingAndGlyphs" fill="#262626" >60</text>
<text x="106.61" y="827.40" font-size="12.3" textLength="6.17" lengthAdjust="spacingAndGlyphs" fill="#262626" >80</text>
<text x="140.47" y="827.40" font-size="12.3" textLength="9.26" lengthAdjust="spacingAndGlyphs" fill="#262626" >100</text>
<text x="175.87" y="827.40" font-size="12.3" textLength="9.26" lengthAdjust="spacingAndGlyphs" fill="#262626" >120</text>
<text x="211.27" y="827.40" font-size="12.3" textLength="9.26" lengthAdjust="spacingAndGlyphs" fill="#262626" >140</text>
<text x="246.67" y="827.40" font-size="12.3" textLength="9.26" lengthAdjust="spacingAndGlyphs" fill="#262626" >160</text>
<text x="282.07" y="827.40" font-size="12.3" textLength="9.26" lengthAdjust="spacingAndGlyphs" fill="#262626" >180</text>
<text x="155.70" y="844.10" font-size="12.3" textLength="6.40" lengthAdjust="spacingAndGlyphs" fill="#262626" >PP</text>
<text transform="translate(6.30,724.50) rotate(-90) scale(1,0.46)" x="0" y="0" font-size="12.8" textLength="43.8" lengthAdjust="spacingAndGlyphs" fill="#2a2a2a" style="stroke:#2a2a2a;stroke-width:0.5px">Density</text>
<text x="99.83" y="584.40" font-size="14.2" textLength="118.14" lengthAdjust="spacingAndGlyphs" fill="#2e2e2e" >Marginal Distribution of PP (Synthetic)</text>
<text x="857.70" y="41.90" font-size="12.3" textLength="29.98" lengthAdjust="spacingAndGlyphs" fill="#262626" >Actual Data</text>
<text x="857.70" y="60.30" font-size="12.3" textLength="37.72" lengthAdjust="spacingAndGlyphs" fill="#262626" >Synthetic Data</text>
<text x="631.01" y="240.90" font-size="12.3" textLength="3.09" lengthAdjust="spacingAndGlyphs" fill="#262626" >0</text>
<text x="631.01" y="189.60" font-size="12.3" textLength="3.09" lengthAdjust="spacingAndGlyphs" fill="#262626" >2</text>
<text x="631.01" y="138.30" font-size="12.3" textLength="3.09" lengthAdjust="spacingAndGlyphs" fill="#262626" >4</text>
<text x="631.01" y="87.00" font-size="12.3" textLength="3.09" lengthAdjust="spacingAndGlyphs" fill="#262626" >6</text>
<text x="631.01" y="35.70" font-size="12.3" textLength="3.09" lengthAdjust="spacingAndGlyphs" fill="#262626" >8</text>
<text x="637.88" y="255.80" font-size="12.3" textLength="15.43" lengthAdjust="spacingAndGlyphs" fill="#262626" >10000</text>
<text x="668.28" y="255.80" font-size="12.3" textLength="15.43" lengthAdjust="spacingAndGlyphs" fill="#262626" >15000</text>
<text x="698.68" y="255.80" font-size="12.3" textLength="15.43" lengthAdjust="spacingAndGlyphs" fill="#262626" >20000</text>
<text x="729.08" y="255.80" font-size="12.3" textLength="15.43" lengthAdjust="spacingAndGlyphs" fill="#262626" >25000</text>
<text x="759.48" y="255.80" font-size="12.3" textLength="15.43" lengthAdjust="spacingAndGlyphs" fill="#262626" >30000</text>
<text x="789.88" y="255.80" font-size="12.3" textLength="15.43" lengthAdjust="spacingAndGlyphs" fill="#262626" >35000</text>
<text x="820.28" y="255.80" font-size="12.3" textLength="15.43" lengthAdjust="spacingAndGlyphs" fill="#262626" >40000</text>
<text x="850.68" y="255.80" font-size="12.3" textLength="15.43" lengthAdjust="spacingAndGlyphs" fill="#262626" >45000</text>
<text x="881.08" y="255.80" font-size="12.3" textLength="15.43" lengthAdjust="spacingAndGlyphs" fill="#262626" >50000</text>
<text x="764.85" y="273.30" font-size="12.3" textLength="9.60" lengthAdjust="spacingAndGlyphs" fill="#262626" >BTC</text>
<text transform="translate(628.00,153.05) rotate(-90) scale(1,0.46)" x="0" y="0" font-size="12.8" textLength="43.8" lengthAdjust="spacingAndGlyphs" fill="#2a2a2a" style="stroke:#2a2a2a;stroke-width:0.5px">Density</text>
<text x="638.80" y="17.30" font-size="12.3" textLength="13.60" lengthAdjust="spacingAndGlyphs" fill="#262626" >1e−5</text>
<text x="676.09" y="13.70" font-size="14.2" textLength="187.11" lengthAdjust="spacingAndGlyphs" fill="#2e2e2e" >Overlayed Marginal Distribution of BTC (Actual vs Synthetic)</text>
<text x="1155.20" y="42.10" font-size="12.3" textLength="29.98" lengthAdjust="spacingAndGlyphs" fill="#262626" >Actual Data</text>
<text x="1155.20" y="60.50" font-size="12.3" textLength="37.72" lengthAdjust="spacingAndGlyphs" fill="#262626" >Synthetic Data</text>
<text x="914.83" y="241.50" font-size="12.3" textLength="16.97" lengthAdjust="spacingAndGlyphs" fill="#262626" >0.0000</text>
<text x="914.83" y="211.03" font-size="12.3" textLength="16.97" lengthAdjust="spacingAndGlyphs" fill="#262626" >0.0002</text>
<text x="914.83" y="180.56" font-size="12.3" textLength="16.97" lengthAdjust="spacingAndGlyphs" fill="#262626" >0.0004</text>
<text x="914.83" y="150.09" font-size="12.3" textLength="16.97" lengthAdjust="spacingAndGlyphs" fill="#262626" >0.0006</text>
<text x="914.83" y="119.62" font-size="12.3" textLength="16.97" lengthAdjust="spacingAndGlyphs" fill="#262626" >0.0008</text>
<text x="914.83" y="89.15" font-size="12.3" textLength="16.97" lengthAdjust="spacingAndGlyphs" fill="#262626" >0.0010</text>
<text x="914.83" y="58.68" font-size="12.3" textLength="16.97" lengthAdjust="spacingAndGlyphs" fill="#262626" >0.0012</text>
<text x="914.83" y="28.21" font-size="12.3" textLength="16.97" lengthAdjust="spacingAndGlyphs" fill="#262626" >0.0014</text>
<text x="938.03" y="255.70" font-size="12.3" textLength="12.35" lengthAdjust="spacingAndGlyphs" fill="#262626" >1000</text>
<text x="989.93" y="255.70" font-size="12.3" textLength="12.35" lengthAdjust="spacingAndGlyphs" fill="#262626" >1500</text>
<text x="1041.83" y="255.70" font-size="12.3" textLength="12.35" lengthAdjust="spacingAndGlyphs" fill="#262626" >2000</text>
<text x="1093.73" y="255.70" font-size="12.3" textLength="12.35" lengthAdjust="spacingAndGlyphs" fill="#262626" >2500</text>
<text x="1145.63" y="255.70" font-size="12.3" textLength="12.35" lengthAdjust="spacingAndGlyphs" fill="#262626" >3000</text>
<text x="1062.60" y="273.20" font-size="12.3" textLength="9.60" lengthAdjust="spacingAndGlyphs" fill="#262626" >ETH</text>
<text transform="translate(911.00,153.00) rotate(-90) scale(1,0.46)" x="0" y="0" font-size="12.8" textLength="43.8" lengthAdjust="spacingAndGlyphs" fill="#2a2a2a" style="stroke:#2a2a2a;stroke-width:0.5px">Density</text>
<text x="973.84" y="13.70" font-size="14.2" textLength="187.11" lengthAdjust="spacingAndGlyphs" fill="#2e2e2e" >Overlayed Marginal Distribution of ETH (Actual vs Synthetic)</text>
<text x="857.70" y="327.60" font-size="12.3" textLength="29.98" lengthAdjust="spacingAndGlyphs" fill="#262626" >Actual Data</text>
<text x="857.70" y="346.00" font-size="12.3" textLength="37.72" lengthAdjust="spacingAndGlyphs" fill="#262626" >Synthetic Data</text>
<text x="620.21" y="526.90" font-size="12.3" textLength="13.89" lengthAdjust="spacingAndGlyphs" fill="#262626" >0.000</text>
<text x="620.21" y="494.68" font-size="12.3" textLength="13.89" lengthAdjust="spacingAndGlyphs" fill="#262626" >0.002</text>
<text x="620.21" y="462.46" font-size="12.3" textLength="13.89" lengthAdjust="spacingAndGlyphs" fill="#262626" >0.004</text>
<text x="620.21" y="430.24" font-size="12.3" textLength="13.89" lengthAdjust="spacingAndGlyphs" fill="#262626" >0.006</text>
<text x="620.21" y="398.02" font-size="12.3" textLength="13.89" lengthAdjust="spacingAndGlyphs" fill="#262626" >0.008</text>
<text x="620.21" y="365.80" font-size="12.3" textLength="13.89" lengthAdjust="spacingAndGlyphs" fill="#262626" >0.010</text>
<text x="620.21" y="333.58" font-size="12.3" textLength="13.89" lengthAdjust="spacingAndGlyphs" fill="#262626" >0.012</text>
<text x="649.11" y="541.20" font-size="12.3" textLength="6.17" lengthAdjust="spacingAndGlyphs" fill="#262626" >50</text>
<text x="702.17" y="541.20" font-size="12.3" textLength="9.26" lengthAdjust="spacingAndGlyphs" fill="#262626" >100</text>
<text x="756.77" y="541.20" font-size="12.3" textLength="9.26" lengthAdjust="spacingAndGlyphs" fill="#262626" >150</text>
<text x="811.37" y="541.20" font-size="12.3" textLength="9.26" lengthAdjust="spacingAndGlyphs" fill="#262626" >200</text>
<text x="865.97" y="541.20" font-size="12.3" textLength="9.26" lengthAdjust="spacingAndGlyphs" fill="#262626" >250</text>
<text x="765.29" y="558.70" font-size="12.3" textLength="8.71" lengthAdjust="spacingAndGlyphs" fill="#262626" >LTC</text>
<text transform="translate(617.00,438.55) rotate(-90) scale(1,0.46)" x="0" y="0" font-size="12.8" textLength="43.8" lengthAdjust="spacingAndGlyphs" fill="#2a2a2a" style="stroke:#2a2a2a;stroke-width:0.5px">Density</text>
<text x="676.74" y="299.30" font-size="14.2" textLength="185.82" lengthAdjust="spacingAndGlyphs" fill="#2e2e2e" >Overlayed Marginal Distribution of LTC (Actual vs Synthetic)</text>
<text x="1155.20" y="327.60" font-size="12.3" textLength="29.98" lengthAdjust="spacingAndGlyphs" fill="#262626" >Actual Data</text>
<text x="1155.20" y="346.00" font-size="12.3" textLength="37.72" lengthAdjust="spacingAndGlyphs" fill="#262626" >Synthetic Data</text>
<text x="917.91" y="526.90" font-size="12.3" textLength="13.89" lengthAdjust="spacingAndGlyphs" fill="#262626" >0.000</text>
<text x="917.91" y="478.15" font-size="12.3" textLength="13.89" lengthAdjust="spacingAndGlyphs" fill="#262626" >0.002</text>
<text x="917.91" y="429.40" font-size="12.3" textLength="13.89" lengthAdjust="spacingAndGlyphs" fill="#262626" >0.004</text>
<text x="917.91" y="380.65" font-size="12.3" textLength="13.89" lengthAdjust="spacingAndGlyphs" fill="#262626" >0.006</text>
<text x="917.91" y="331.90" font-size="12.3" textLength="13.89" lengthAdjust="spacingAndGlyphs" fill="#262626" >0.008</text>
<text x="948.97" y="541.20" font-size="12.3" textLength="9.26" lengthAdjust="spacingAndGlyphs" fill="#262626" >200</text>
<text x="1007.14" y="541.20" font-size="12.3" textLength="9.26" lengthAdjust="spacingAndGlyphs" fill="#262626" >300</text>
<text x="1065.31" y="541.20" font-size="12.3" textLength="9.26" lengthAdjust="spacingAndGlyphs" fill="#262626" >400</text>
<text x="1123.48" y="541.20" font-size="12.3" textLength="9.26" lengthAdjust="spacingAndGlyphs" fill="#262626" >500</text>
<text x="1181.65" y="541.20" font-size="12.3" textLength="9.26" lengthAdjust="spacingAndGlyphs" fill="#262626" >600</text>
<text x="1062.47" y="558.70" font-size="12.3" textLength="9.87" lengthAdjust="spacingAndGlyphs" fill="#262626" >CO2</text>
<text transform="translate(914.00,438.55) rotate(-90) scale(1,0.46)" x="0" y="0" font-size="12.8" textLength="43.8" lengthAdjust="spacingAndGlyphs" fill="#2a2a2a" style="stroke:#2a2a2a;stroke-width:0.5px">Density</text>
<text x="973.65" y="299.30" font-size="14.2" textLength="187.51" lengthAdjust="spacingAndGlyphs" fill="#2e2e2e" >Overlayed Marginal Distribution of CO2 (Actual vs Synthetic)</text>
<text x="857.70" y="612.60" font-size="12.3" textLength="29.98" lengthAdjust="spacingAndGlyphs" fill="#262626" >Actual Data</text>
<text x="857.70" y="631.00" font-size="12.3" textLength="37.72" lengthAdjust="spacingAndGlyphs" fill="#262626" >Synthetic Data</text>
<text x="620.21" y="812.70" font-size="12.3" textLength="13.89" lengthAdjust="spacingAndGlyphs" fill="#262626" >0.000</text>
<text x="620.21" y="761.00" font-size="12.3" textLength="13.89" lengthAdjust="spacingAndGlyphs" fill="#262626" >0.005</text>
<text x="620.21" y="709.30" font-size="12.3" textLength="13.89" lengthAdjust="spacingAndGlyphs" fill="#262626" >0.010</text>
<text x="620.21" y="657.60" font-size="12.3" textLength="13.89" lengthAdjust="spacingAndGlyphs" fill="#262626" >0.015</text>
<text x="620.21" y="605.90" font-size="12.3" textLength="13.89" lengthAdjust="spacingAndGlyphs" fill="#262626" >0.020</text>
<text x="647.91" y="827.00" font-size="12.3" textLength="6.17" lengthAdjust="spacingAndGlyphs" fill="#262626" >25</text>
<text x="683.81" y="827.00" font-size="12.3" textLength="6.17" lengthAdjust="spacingAndGlyphs" fill="#262626" >50</text>
<text x="719.71" y="827.00" font-size="12.3" textLength="6.17" lengthAdjust="spacingAndGlyphs" fill="#262626" >75</text>
<text x="754.07" y="827.00" font-size="12.3" textLength="9.26" lengthAdjust="spacingAndGlyphs" fill="#262626" >100</text>
<text x="789.97" y="827.00" font-size="12.3" textLength="9.26" lengthAdjust="spacingAndGlyphs" fill="#262626" >125</text>
<text x="825.87" y="827.00" font-size="12.3" textLength="9.26" lengthAdjust="spacingAndGlyphs" fill="#262626" >150</text>
<text x="861.77" y="827.00" font-size="12.3" textLength="9.26" lengthAdjust="spacingAndGlyphs" fill="#262626" >175</text>
<text x="766.45" y="844.50" font-size="12.3" textLength="6.40" lengthAdjust="spacingAndGlyphs" fill="#262626" >PP</text>
<text transform="translate(617.00,724.15) rotate(-90) scale(1,0.46)" x="0" y="0" font-size="12.8" textLength="43.8" lengthAdjust="spacingAndGlyphs" fill="#2a2a2a" style="stroke:#2a2a2a;stroke-width:0.5px">Density</text>
<text x="678.49" y="584.70" font-size="14.2" textLength="182.33" lengthAdjust="spacingAndGlyphs" fill="#2e2e2e" >Overlayed Marginal Distribution of PP (Actual vs Synthetic)</text>
</g>
</svg>
</body></html>
